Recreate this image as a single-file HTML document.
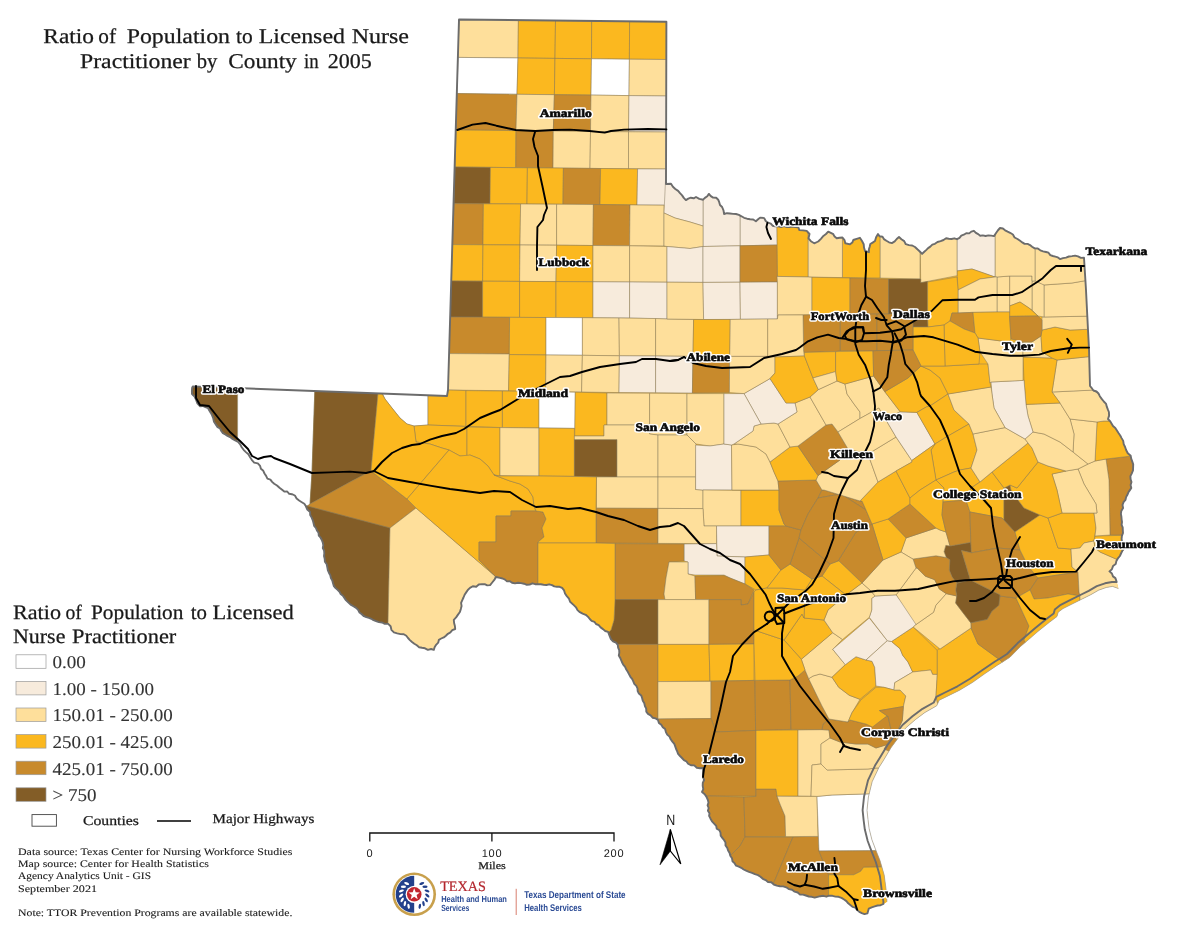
<!DOCTYPE html>
<html><head><meta charset="utf-8"><title>Ratio of Population to Licensed Nurse Practitioner by County in 2005</title>
<style>
html,body{margin:0;padding:0;background:#fff;}
body{width:1200px;height:927px;overflow:hidden;position:relative;font-family:"Liberation Serif",serif;}
svg{position:absolute;left:0;top:0;will-change:transform;}
svg text{text-rendering:geometricPrecision;}
.cty polygon{stroke:#85795f;stroke-width:0.5;stroke-linejoin:round;}
.hw polyline{fill:none;stroke:#000;stroke-width:1.9;stroke-linejoin:round;stroke-linecap:round;}
.lab text{font-family:"Liberation Serif",serif;font-weight:bold;font-size:11.5px;stroke-linejoin:round;}
.lab .h{fill:#fff;stroke:#fff;stroke-width:3.4px;}
.lab .f{fill:#0a0a0a;stroke:#0a0a0a;stroke-width:0.6px;}
.t{font-family:"Liberation Serif",serif;fill:#1a1a1a;stroke:#1a1a1a;stroke-width:0.25px;}
.s{font-family:"Liberation Sans",sans-serif;fill:#1a1a1a;}
</style></head><body>
<svg width="1200" height="927" viewBox="0 0 1200 927">
<defs><clipPath id="tx"><polygon points="459.0,19.5 666.4,21.7 666.0,184.0 671.0,183.8 672.9,186.8 675.3,189.0 678.1,190.9 680.0,193.2 682.1,195.4 683.8,197.9 685.9,200.1 688.3,198.6 690.8,197.7 693.7,198.3 696.0,197.0 699.3,198.9 703.1,199.7 704.9,197.9 707.3,196.3 708.9,193.9 710.8,196.1 713.1,197.6 716.2,197.8 718.2,199.7 719.3,202.4 720.0,205.0 722.1,207.0 723.5,210.4 724.1,214.0 727.0,213.2 730.0,213.5 733.0,213.9 736.0,214.0 738.9,214.9 741.5,216.3 744.1,217.8 747.0,218.7 750.1,219.2 753.2,219.5 755.9,221.2 758.1,219.3 760.1,217.6 764.2,218.1 765.7,221.0 768.1,222.7 770.8,223.6 772.6,225.7 775.3,226.3 778.2,226.4 781.1,227.0 784.0,226.2 786.8,227.1 789.7,227.0 792.6,226.5 795.4,227.1 798.3,227.4 799.4,230.1 803.1,230.4 806.7,230.9 809.5,234.0 808.5,238.3 810.9,241.2 814.2,243.3 818.2,241.5 820.9,238.8 823.4,235.9 826.0,234.0 828.2,231.6 830.8,232.9 833.3,234.2 834.6,236.6 836.7,238.3 839.6,237.7 842.5,237.5 844.5,240.1 845.3,243.2 850.0,244.3 852.3,242.6 853.3,240.0 856.6,238.8 859.9,237.8 862.0,241.0 863.7,244.2 864.0,247.6 865.0,251.0 868.9,252.2 868.9,249.3 869.7,246.7 870.3,244.0 872.6,242.6 875.0,241.0 876.1,237.3 878.0,234.0 879.5,236.3 882.5,236.7 883.9,239.1 886.4,240.8 889.0,242.3 891.9,243.1 894.7,241.4 896.7,239.0 899.0,237.0 901.4,239.2 904.2,241.1 905.8,244.2 909.0,245.1 912.2,245.5 915.0,247.0 917.4,249.3 919.8,251.5 922.1,253.9 924.0,252.0 926.1,250.1 928.1,248.1 930.3,246.6 932.3,244.6 934.9,243.8 937.5,242.0 940.6,241.1 943.5,240.0 946.1,238.2 948.7,238.8 951.5,239.0 954.3,238.3 957.0,239.2 959.5,237.9 961.3,235.7 963.8,234.7 966.2,233.2 969.2,233.4 971.3,231.6 973.9,230.8 975.9,232.8 978.2,234.1 980.2,235.8 982.8,235.4 985.6,236.0 988.4,235.4 991.2,235.6 994.0,236.1 995.9,233.3 997.8,230.5 1000.0,228.0 1002.9,228.5 1005.1,230.3 1007.6,231.6 1010.1,232.8 1012.9,234.5 1014.6,237.5 1017.5,239.0 1020.1,240.8 1022.3,242.4 1024.6,243.9 1027.6,243.9 1030.0,245.1 1032.1,246.8 1034.7,248.4 1037.8,248.5 1040.3,250.3 1043.1,251.3 1046.0,252.0 1048.5,252.7 1050.3,255.1 1052.8,256.0 1055.3,256.7 1057.9,257.4 1060.0,259.1 1063.0,258.1 1066.0,257.6 1068.9,256.5 1072.0,256.1 1075.1,255.6 1078.0,256.4 1080.9,257.9 1084.0,257.8 1086.0,290.0 1088.0,330.0 1089.0,349.0 1090.0,386.0 1091.8,388.2 1093.5,390.5 1096.5,391.5 1098.5,393.5 1099.8,396.2 1101.7,398.9 1103.8,401.5 1106.1,403.9 1106.8,406.7 1107.8,409.4 1108.9,412.0 1109.1,415.6 1108.0,419.0 1110.0,421.1 1111.5,423.6 1113.0,426.1 1115.3,428.0 1116.9,430.5 1118.5,433.0 1120.2,435.5 1121.6,438.1 1123.2,440.9 1123.7,444.1 1125.1,447.0 1126.1,450.0 1127.8,453.3 1130.7,455.8 1131.2,458.7 1132.3,461.6 1133.2,464.4 1133.1,467.5 1133.0,470.5 1131.8,473.3 1130.4,476.1 1130.6,479.2 1131.5,482.1 1130.6,485.1 1131.3,488.0 1129.9,490.1 1128.4,492.3 1127.4,494.8 1126.1,497.1 1125.5,499.8 1123.7,501.8 1122.5,504.8 1123.1,508.1 1121.3,510.9 1120.9,514.0 1121.4,516.7 1121.6,519.3 1122.0,522.0 1121.6,524.8 1122.7,527.3 1122.8,530.0 1123.0,533.0 1121.9,535.9 1121.6,538.9 1122.0,542.0 1122.9,545.5 1123.7,549.1 1122.2,551.0 1121.0,553.5 1119.9,556.0 1118.1,558.1 1116.4,560.9 1115.7,564.1 1113.0,566.1 1111.9,569.3 1109.5,571.4 1111.9,573.5 1113.0,576.4 1115.4,578.1 1116.7,582.0 1118.4,588.5 1112.5,586.4 1106.2,587.5 1098.6,590.2 1090.8,594.7 1081.3,599.4 1072.0,604.1 1063.0,608.6 1058.2,612.2 1057.0,616.5 1049.4,622.3 1037.8,631.6 1028.6,639.6 1020.5,646.5 1009.9,657.3 1002.3,662.2 997.4,665.2 985.0,673.6 972.4,682.5 959.6,690.2 947.0,696.4 939.2,700.2 936.7,705.8 924.9,712.5 915.3,719.7 905.7,728.0 898.5,737.6 891.2,747.4 883.8,759.8 878.9,767.6 872.2,781.6 868.4,797.0 867.0,810.3 868.0,819.5 869.1,828.5 871.9,839.7 875.3,848.7 880.0,860.6 884.2,875.1 886.1,889.4 887.0,901.7 883.4,904.0 880.6,905.2 877.6,905.5 874.7,906.4 871.7,907.3 868.8,908.6 867.4,913.4 864.5,914.1 861.8,913.1 859.3,911.9 857.1,909.9 855.3,907.6 852.5,906.8 850.3,905.0 848.2,903.3 846.4,901.1 844.1,899.5 841.5,897.9 838.6,896.8 835.4,896.6 832.4,895.8 829.2,895.7 826.3,896.7 823.3,895.8 820.4,896.2 817.6,896.9 814.7,897.6 811.7,896.8 808.8,896.5 805.9,895.5 803.0,894.6 800.0,894.6 797.7,892.5 794.6,891.7 792.1,889.8 789.0,889.1 786.2,887.3 783.2,886.4 779.9,886.3 776.8,885.6 773.8,884.5 771.3,882.2 768.0,882.0 765.6,880.1 762.8,878.8 760.5,876.7 758.0,875.1 754.9,874.2 752.0,872.9 749.0,871.9 746.1,870.7 743.6,869.5 741.3,867.8 738.8,866.7 736.1,865.7 734.7,863.4 732.5,861.3 732.0,858.2 730.3,855.8 729.6,853.1 728.1,850.6 727.3,847.9 725.5,845.5 725.5,842.5 724.0,840.0 722.3,837.8 720.7,835.7 720.5,832.7 719.4,830.3 716.7,828.7 716.2,825.9 714.1,823.6 712.0,821.3 710.5,818.7 709.1,815.9 709.5,813.3 707.9,810.7 708.7,808.0 707.6,805.4 708.5,802.6 707.9,800.0 706.5,796.9 704.7,794.2 702.0,792.0 703.3,789.1 702.7,785.9 702.8,782.9 704.1,780.0 703.0,777.1 703.0,774.0 703.1,771.0 703.1,768.0 700.0,768.2 696.8,767.7 694.2,765.4 690.9,765.3 688.1,763.7 686.5,761.5 683.9,760.1 682.0,758.0 680.0,756.0 678.1,753.9 677.2,751.4 676.1,749.0 675.2,746.4 674.3,743.9 672.4,741.6 670.7,739.3 669.5,736.6 667.2,734.6 665.9,732.1 665.1,729.1 662.8,727.2 661.3,724.8 658.9,722.9 658.0,720.0 655.6,718.4 652.6,717.7 650.6,715.3 648.0,713.9 646.3,711.6 646.2,708.6 644.9,706.0 644.3,703.2 642.8,700.8 642.1,698.0 641.2,695.4 638.9,693.6 637.7,691.1 637.5,688.3 636.3,685.9 634.3,683.9 633.3,681.4 632.1,678.9 630.4,676.8 629.1,674.4 627.9,672.1 626.3,669.6 625.1,666.9 623.2,664.7 621.9,662.0 620.2,657.9 618.8,655.5 619.3,652.8 619.2,650.1 618.1,647.6 617.8,645.0 616.0,642.6 613.0,641.3 610.9,639.2 609.4,635.5 608.1,631.9 605.2,631.0 603.0,629.1 600.6,627.4 598.7,625.1 596.0,624.0 594.4,621.8 591.6,620.9 589.8,619.0 588.1,616.9 585.7,614.8 582.6,613.7 579.9,612.2 577.5,610.1 576.0,607.3 573.8,605.1 570.1,601.8 569.0,598.7 566.8,596.1 565.0,593.5 564.1,590.4 562.1,587.9 559.6,586.8 556.9,586.8 554.3,586.4 552.0,585.1 549.2,584.3 546.4,585.0 543.6,584.7 540.8,584.3 538.0,584.1 535.2,584.2 532.4,583.3 529.6,584.6 526.8,584.8 524.0,583.7 521.1,583.1 518.1,582.7 515.0,583.4 512.0,582.7 509.9,581.3 507.0,581.4 505.0,579.6 502.6,578.5 500.0,577.9 496.0,577.0 494.3,579.9 492.2,582.5 490.1,585.1 487.2,585.4 484.7,584.2 482.0,584.1 478.8,584.5 476.2,586.7 472.8,586.3 470.0,587.9 467.8,590.0 466.2,592.4 464.6,594.8 463.5,597.5 462.3,600.2 461.1,602.9 461.6,606.1 460.8,609.1 459.9,612.0 458.0,614.6 456.1,617.4 453.8,619.8 454.1,623.0 454.9,626.0 455.2,629.0 452.3,630.2 450.4,632.4 447.9,633.8 445.9,635.7 443.8,637.4 441.2,638.5 438.9,639.8 438.2,642.7 436.1,644.8 434.6,647.2 433.8,649.9 431.1,649.0 427.9,649.8 425.0,648.3 422.0,647.8 419.1,647.2 416.8,645.3 414.3,643.8 412.0,642.0 409.9,640.1 408.0,638.0 406.3,635.7 403.8,634.2 400.5,634.1 397.2,633.3 393.9,632.3 391.4,629.8 390.6,626.2 388.2,623.9 384.8,623.9 382.0,622.5 378.9,622.1 376.0,621.1 373.5,620.2 371.3,618.8 368.9,617.9 366.3,617.2 363.9,616.2 361.8,614.2 359.5,612.5 358.1,609.9 356.1,607.9 353.4,606.2 350.6,604.6 348.2,602.4 345.9,600.1 344.4,597.9 342.9,595.7 340.7,594.1 339.5,591.7 337.6,589.9 335.6,588.1 333.9,586.1 333.0,583.3 332.3,580.5 330.9,578.0 330.3,575.2 328.9,572.7 327.8,570.1 327.3,567.2 326.7,564.3 324.9,561.8 324.7,558.8 324.0,556.0 324.3,553.3 324.1,550.6 322.8,548.0 323.3,545.2 322.8,542.6 321.8,540.0 320.6,537.7 318.8,535.7 318.5,532.7 316.9,530.5 315.9,528.0 314.2,525.9 313.5,523.1 312.8,520.3 311.7,517.6 310.2,515.0 310.1,512.0 307.3,509.5 305.8,506.1 304.3,503.7 301.8,502.2 299.1,500.5 296.6,498.5 294.9,495.5 291.9,494.2 289.2,493.8 287.2,491.5 284.3,491.6 282.1,489.8 279.5,487.8 277.0,485.5 274.2,483.8 272.1,481.9 270.4,479.6 267.4,478.6 266.1,475.9 264.5,473.5 263.3,470.8 260.9,468.8 260.1,465.9 257.8,463.4 254.2,462.6 251.9,460.1 250.1,457.3 248.4,454.3 245.9,452.1 243.6,449.8 241.7,447.3 240.2,444.4 238.1,441.9 235.2,440.5 232.5,438.9 230.0,437.1 227.5,435.9 225.3,434.5 222.9,433.2 221.3,431.0 220.1,428.5 217.6,427.1 216.1,424.9 214.0,421.7 213.1,417.9 212.1,415.3 210.8,412.9 209.3,410.5 208.0,408.0 205.4,407.1 202.8,406.0 199.9,406.2 197.4,403.4 196.1,399.9 194.6,396.6 192.0,394.0 191.9,391.0 192.1,388.0 192.8,386.4 447.0,396.0 448.0,390.0"/></clipPath></defs>
<rect width="1200" height="927" fill="#fff"/>
<polygon points="459.0,19.5 666.4,21.7 666.0,184.0 671.0,183.8 672.9,186.8 675.3,189.0 678.1,190.9 680.0,193.2 682.1,195.4 683.8,197.9 685.9,200.1 688.3,198.6 690.8,197.7 693.7,198.3 696.0,197.0 699.3,198.9 703.1,199.7 704.9,197.9 707.3,196.3 708.9,193.9 710.8,196.1 713.1,197.6 716.2,197.8 718.2,199.7 719.3,202.4 720.0,205.0 722.1,207.0 723.5,210.4 724.1,214.0 727.0,213.2 730.0,213.5 733.0,213.9 736.0,214.0 738.9,214.9 741.5,216.3 744.1,217.8 747.0,218.7 750.1,219.2 753.2,219.5 755.9,221.2 758.1,219.3 760.1,217.6 764.2,218.1 765.7,221.0 768.1,222.7 770.8,223.6 772.6,225.7 775.3,226.3 778.2,226.4 781.1,227.0 784.0,226.2 786.8,227.1 789.7,227.0 792.6,226.5 795.4,227.1 798.3,227.4 799.4,230.1 803.1,230.4 806.7,230.9 809.5,234.0 808.5,238.3 810.9,241.2 814.2,243.3 818.2,241.5 820.9,238.8 823.4,235.9 826.0,234.0 828.2,231.6 830.8,232.9 833.3,234.2 834.6,236.6 836.7,238.3 839.6,237.7 842.5,237.5 844.5,240.1 845.3,243.2 850.0,244.3 852.3,242.6 853.3,240.0 856.6,238.8 859.9,237.8 862.0,241.0 863.7,244.2 864.0,247.6 865.0,251.0 868.9,252.2 868.9,249.3 869.7,246.7 870.3,244.0 872.6,242.6 875.0,241.0 876.1,237.3 878.0,234.0 879.5,236.3 882.5,236.7 883.9,239.1 886.4,240.8 889.0,242.3 891.9,243.1 894.7,241.4 896.7,239.0 899.0,237.0 901.4,239.2 904.2,241.1 905.8,244.2 909.0,245.1 912.2,245.5 915.0,247.0 917.4,249.3 919.8,251.5 922.1,253.9 924.0,252.0 926.1,250.1 928.1,248.1 930.3,246.6 932.3,244.6 934.9,243.8 937.5,242.0 940.6,241.1 943.5,240.0 946.1,238.2 948.7,238.8 951.5,239.0 954.3,238.3 957.0,239.2 959.5,237.9 961.3,235.7 963.8,234.7 966.2,233.2 969.2,233.4 971.3,231.6 973.9,230.8 975.9,232.8 978.2,234.1 980.2,235.8 982.8,235.4 985.6,236.0 988.4,235.4 991.2,235.6 994.0,236.1 995.9,233.3 997.8,230.5 1000.0,228.0 1002.9,228.5 1005.1,230.3 1007.6,231.6 1010.1,232.8 1012.9,234.5 1014.6,237.5 1017.5,239.0 1020.1,240.8 1022.3,242.4 1024.6,243.9 1027.6,243.9 1030.0,245.1 1032.1,246.8 1034.7,248.4 1037.8,248.5 1040.3,250.3 1043.1,251.3 1046.0,252.0 1048.5,252.7 1050.3,255.1 1052.8,256.0 1055.3,256.7 1057.9,257.4 1060.0,259.1 1063.0,258.1 1066.0,257.6 1068.9,256.5 1072.0,256.1 1075.1,255.6 1078.0,256.4 1080.9,257.9 1084.0,257.8 1086.0,290.0 1088.0,330.0 1089.0,349.0 1090.0,386.0 1091.8,388.2 1093.5,390.5 1096.5,391.5 1098.5,393.5 1099.8,396.2 1101.7,398.9 1103.8,401.5 1106.1,403.9 1106.8,406.7 1107.8,409.4 1108.9,412.0 1109.1,415.6 1108.0,419.0 1110.0,421.1 1111.5,423.6 1113.0,426.1 1115.3,428.0 1116.9,430.5 1118.5,433.0 1120.2,435.5 1121.6,438.1 1123.2,440.9 1123.7,444.1 1125.1,447.0 1126.1,450.0 1127.8,453.3 1130.7,455.8 1131.2,458.7 1132.3,461.6 1133.2,464.4 1133.1,467.5 1133.0,470.5 1131.8,473.3 1130.4,476.1 1130.6,479.2 1131.5,482.1 1130.6,485.1 1131.3,488.0 1129.9,490.1 1128.4,492.3 1127.4,494.8 1126.1,497.1 1125.5,499.8 1123.7,501.8 1122.5,504.8 1123.1,508.1 1121.3,510.9 1120.9,514.0 1121.4,516.7 1121.6,519.3 1122.0,522.0 1121.6,524.8 1122.7,527.3 1122.8,530.0 1123.0,533.0 1121.9,535.9 1121.6,538.9 1122.0,542.0 1122.9,545.5 1123.7,549.1 1122.2,551.0 1121.0,553.5 1119.9,556.0 1118.1,558.1 1116.4,560.9 1115.7,564.1 1113.0,566.1 1111.9,569.3 1109.5,571.4 1111.9,573.5 1113.0,576.4 1115.4,578.1 1116.7,582.0 1118.4,588.5 1112.5,586.4 1106.2,587.5 1098.6,590.2 1090.8,594.7 1081.3,599.4 1072.0,604.1 1063.0,608.6 1058.2,612.2 1057.0,616.5 1049.4,622.3 1037.8,631.6 1028.6,639.6 1020.5,646.5 1009.9,657.3 1002.3,662.2 997.4,665.2 985.0,673.6 972.4,682.5 959.6,690.2 947.0,696.4 939.2,700.2 936.7,705.8 924.9,712.5 915.3,719.7 905.7,728.0 898.5,737.6 891.2,747.4 883.8,759.8 878.9,767.6 872.2,781.6 868.4,797.0 867.0,810.3 868.0,819.5 869.1,828.5 871.9,839.7 875.3,848.7 880.0,860.6 884.2,875.1 886.1,889.4 887.0,901.7 883.4,904.0 880.6,905.2 877.6,905.5 874.7,906.4 871.7,907.3 868.8,908.6 867.4,913.4 864.5,914.1 861.8,913.1 859.3,911.9 857.1,909.9 855.3,907.6 852.5,906.8 850.3,905.0 848.2,903.3 846.4,901.1 844.1,899.5 841.5,897.9 838.6,896.8 835.4,896.6 832.4,895.8 829.2,895.7 826.3,896.7 823.3,895.8 820.4,896.2 817.6,896.9 814.7,897.6 811.7,896.8 808.8,896.5 805.9,895.5 803.0,894.6 800.0,894.6 797.7,892.5 794.6,891.7 792.1,889.8 789.0,889.1 786.2,887.3 783.2,886.4 779.9,886.3 776.8,885.6 773.8,884.5 771.3,882.2 768.0,882.0 765.6,880.1 762.8,878.8 760.5,876.7 758.0,875.1 754.9,874.2 752.0,872.9 749.0,871.9 746.1,870.7 743.6,869.5 741.3,867.8 738.8,866.7 736.1,865.7 734.7,863.4 732.5,861.3 732.0,858.2 730.3,855.8 729.6,853.1 728.1,850.6 727.3,847.9 725.5,845.5 725.5,842.5 724.0,840.0 722.3,837.8 720.7,835.7 720.5,832.7 719.4,830.3 716.7,828.7 716.2,825.9 714.1,823.6 712.0,821.3 710.5,818.7 709.1,815.9 709.5,813.3 707.9,810.7 708.7,808.0 707.6,805.4 708.5,802.6 707.9,800.0 706.5,796.9 704.7,794.2 702.0,792.0 703.3,789.1 702.7,785.9 702.8,782.9 704.1,780.0 703.0,777.1 703.0,774.0 703.1,771.0 703.1,768.0 700.0,768.2 696.8,767.7 694.2,765.4 690.9,765.3 688.1,763.7 686.5,761.5 683.9,760.1 682.0,758.0 680.0,756.0 678.1,753.9 677.2,751.4 676.1,749.0 675.2,746.4 674.3,743.9 672.4,741.6 670.7,739.3 669.5,736.6 667.2,734.6 665.9,732.1 665.1,729.1 662.8,727.2 661.3,724.8 658.9,722.9 658.0,720.0 655.6,718.4 652.6,717.7 650.6,715.3 648.0,713.9 646.3,711.6 646.2,708.6 644.9,706.0 644.3,703.2 642.8,700.8 642.1,698.0 641.2,695.4 638.9,693.6 637.7,691.1 637.5,688.3 636.3,685.9 634.3,683.9 633.3,681.4 632.1,678.9 630.4,676.8 629.1,674.4 627.9,672.1 626.3,669.6 625.1,666.9 623.2,664.7 621.9,662.0 620.2,657.9 618.8,655.5 619.3,652.8 619.2,650.1 618.1,647.6 617.8,645.0 616.0,642.6 613.0,641.3 610.9,639.2 609.4,635.5 608.1,631.9 605.2,631.0 603.0,629.1 600.6,627.4 598.7,625.1 596.0,624.0 594.4,621.8 591.6,620.9 589.8,619.0 588.1,616.9 585.7,614.8 582.6,613.7 579.9,612.2 577.5,610.1 576.0,607.3 573.8,605.1 570.1,601.8 569.0,598.7 566.8,596.1 565.0,593.5 564.1,590.4 562.1,587.9 559.6,586.8 556.9,586.8 554.3,586.4 552.0,585.1 549.2,584.3 546.4,585.0 543.6,584.7 540.8,584.3 538.0,584.1 535.2,584.2 532.4,583.3 529.6,584.6 526.8,584.8 524.0,583.7 521.1,583.1 518.1,582.7 515.0,583.4 512.0,582.7 509.9,581.3 507.0,581.4 505.0,579.6 502.6,578.5 500.0,577.9 496.0,577.0 494.3,579.9 492.2,582.5 490.1,585.1 487.2,585.4 484.7,584.2 482.0,584.1 478.8,584.5 476.2,586.7 472.8,586.3 470.0,587.9 467.8,590.0 466.2,592.4 464.6,594.8 463.5,597.5 462.3,600.2 461.1,602.9 461.6,606.1 460.8,609.1 459.9,612.0 458.0,614.6 456.1,617.4 453.8,619.8 454.1,623.0 454.9,626.0 455.2,629.0 452.3,630.2 450.4,632.4 447.9,633.8 445.9,635.7 443.8,637.4 441.2,638.5 438.9,639.8 438.2,642.7 436.1,644.8 434.6,647.2 433.8,649.9 431.1,649.0 427.9,649.8 425.0,648.3 422.0,647.8 419.1,647.2 416.8,645.3 414.3,643.8 412.0,642.0 409.9,640.1 408.0,638.0 406.3,635.7 403.8,634.2 400.5,634.1 397.2,633.3 393.9,632.3 391.4,629.8 390.6,626.2 388.2,623.9 384.8,623.9 382.0,622.5 378.9,622.1 376.0,621.1 373.5,620.2 371.3,618.8 368.9,617.9 366.3,617.2 363.9,616.2 361.8,614.2 359.5,612.5 358.1,609.9 356.1,607.9 353.4,606.2 350.6,604.6 348.2,602.4 345.9,600.1 344.4,597.9 342.9,595.7 340.7,594.1 339.5,591.7 337.6,589.9 335.6,588.1 333.9,586.1 333.0,583.3 332.3,580.5 330.9,578.0 330.3,575.2 328.9,572.7 327.8,570.1 327.3,567.2 326.7,564.3 324.9,561.8 324.7,558.8 324.0,556.0 324.3,553.3 324.1,550.6 322.8,548.0 323.3,545.2 322.8,542.6 321.8,540.0 320.6,537.7 318.8,535.7 318.5,532.7 316.9,530.5 315.9,528.0 314.2,525.9 313.5,523.1 312.8,520.3 311.7,517.6 310.2,515.0 310.1,512.0 307.3,509.5 305.8,506.1 304.3,503.7 301.8,502.2 299.1,500.5 296.6,498.5 294.9,495.5 291.9,494.2 289.2,493.8 287.2,491.5 284.3,491.6 282.1,489.8 279.5,487.8 277.0,485.5 274.2,483.8 272.1,481.9 270.4,479.6 267.4,478.6 266.1,475.9 264.5,473.5 263.3,470.8 260.9,468.8 260.1,465.9 257.8,463.4 254.2,462.6 251.9,460.1 250.1,457.3 248.4,454.3 245.9,452.1 243.6,449.8 241.7,447.3 240.2,444.4 238.1,441.9 235.2,440.5 232.5,438.9 230.0,437.1 227.5,435.9 225.3,434.5 222.9,433.2 221.3,431.0 220.1,428.5 217.6,427.1 216.1,424.9 214.0,421.7 213.1,417.9 212.1,415.3 210.8,412.9 209.3,410.5 208.0,408.0 205.4,407.1 202.8,406.0 199.9,406.2 197.4,403.4 196.1,399.9 194.6,396.6 192.0,394.0 191.9,391.0 192.1,388.0 192.8,386.4 447.0,396.0 448.0,390.0" fill="#fbb81f"/>
<g class="cty" clip-path="url(#tx)">
<polygon points="459.0,19.5 518.4,20.1 518.0,58.0 458.0,57.4" fill="#fedf9b"/>
<polygon points="518.4,20.1 555.5,20.5 555.0,58.4 518.0,58.0" fill="#fbb81f"/>
<polygon points="555.5,20.5 591.7,20.9 591.5,58.8 555.0,58.4" fill="#fbb81f"/>
<polygon points="591.7,20.9 629.6,21.3 629.4,59.2 591.5,58.8" fill="#fbb81f"/>
<polygon points="629.6,21.3 667.0,21.7 667.0,59.5 629.4,59.2" fill="#fbb81f"/>
<polygon points="458.0,57.4 518.0,58.0 517.0,94.3 457.0,93.6" fill="#ffffff"/>
<polygon points="518.0,58.0 555.0,58.4 554.4,94.7 517.0,94.3" fill="#fbb81f"/>
<polygon points="555.0,58.4 591.5,58.8 591.0,95.1 554.4,94.7" fill="#fbb81f"/>
<polygon points="591.5,58.8 629.4,59.2 629.0,95.6 591.0,95.1" fill="#ffffff"/>
<polygon points="629.4,59.2 667.0,59.5 667.0,96.0 629.0,95.6" fill="#fedf9b"/>
<polygon points="457.0,93.6 517.0,94.3 516.0,130.6 456.0,130.0" fill="#c88a2c"/>
<polygon points="517.0,94.3 554.4,94.7 553.3,131.0 516.0,130.6" fill="#fedf9b"/>
<polygon points="554.4,94.7 591.0,95.1 590.5,131.4 553.3,131.0" fill="#c88a2c"/>
<polygon points="591.0,95.1 629.0,95.6 628.5,131.8 590.5,131.4" fill="#fedf9b"/>
<polygon points="629.0,95.6 667.0,96.0 667.0,132.0 628.5,131.8" fill="#f7ebdc"/>
<polygon points="456.0,130.0 516.0,130.6 515.8,167.6 455.0,167.0" fill="#fbb81f"/>
<polygon points="516.0,130.6 553.3,131.0 553.0,168.0 515.8,167.6" fill="#c88a2c"/>
<polygon points="553.3,131.0 590.5,131.4 590.0,168.4 553.0,168.0" fill="#fedf9b"/>
<polygon points="590.5,131.4 628.5,131.8 628.5,168.8 590.0,168.4" fill="#fedf9b"/>
<polygon points="628.5,131.8 667.0,132.0 667.0,169.0 628.5,168.8" fill="#fedf9b"/>
<polygon points="455.0,167.0 490.4,167.4 490.0,203.8 454.0,203.6" fill="#835d27"/>
<polygon points="490.4,167.4 527.4,167.8 527.0,204.0 490.0,203.8" fill="#fbb81f"/>
<polygon points="527.4,167.8 563.4,168.1 563.0,204.3 527.0,204.0" fill="#fbb81f"/>
<polygon points="563.4,168.1 600.6,168.5 600.0,204.6 563.0,204.3" fill="#c88a2c"/>
<polygon points="600.6,168.5 637.6,168.9 637.0,205.0 600.0,204.6" fill="#fbb81f"/>
<polygon points="637.6,168.9 667.0,169.0 667.0,205.2 637.0,205.0" fill="#f7ebdc"/>
<polygon points="454.0,203.6 483.4,203.8 483.0,244.8 452.4,244.6" fill="#c88a2c"/>
<polygon points="483.4,203.8 520.6,204.0 520.0,245.0 483.0,244.8" fill="#fbb81f"/>
<polygon points="520.6,204.0 556.6,204.2 556.6,245.2 520.0,245.0" fill="#fedf9b"/>
<polygon points="556.6,204.2 593.4,204.5 593.0,245.5 556.6,245.2" fill="#fedf9b"/>
<polygon points="593.4,204.5 630.0,204.9 629.6,245.8 593.0,245.5" fill="#c88a2c"/>
<polygon points="630.0,204.9 664.0,205.2 664.0,246.0 629.6,245.8" fill="#fedf9b"/>
<polygon points="452.4,244.6 483.0,244.8 482.6,281.2 451.0,281.0" fill="#fbb81f"/>
<polygon points="483.0,244.8 520.0,245.0 519.6,281.4 482.6,281.2" fill="#fbb81f"/>
<polygon points="520.0,245.0 556.6,245.2 556.0,281.6 519.6,281.4" fill="#fedf9b"/>
<polygon points="556.6,245.2 593.0,245.5 593.0,281.8 556.0,281.6" fill="#fbb81f"/>
<polygon points="593.0,245.5 629.6,245.8 629.6,282.0 593.0,281.8" fill="#fedf9b"/>
<polygon points="629.6,245.8 667.0,246.5 667.0,282.2 629.6,282.0" fill="#fedf9b"/>
<polygon points="451.0,281.0 482.6,281.2 482.6,317.2 449.5,317.0" fill="#835d27"/>
<polygon points="482.6,281.2 519.6,281.4 519.6,317.4 482.6,317.2" fill="#fbb81f"/>
<polygon points="519.6,281.4 556.0,281.6 556.0,317.6 519.6,317.4" fill="#fbb81f"/>
<polygon points="556.0,281.6 593.0,281.8 593.0,317.8 556.0,317.6" fill="#fbb81f"/>
<polygon points="593.0,281.8 629.6,282.0 629.6,318.0 593.0,317.8" fill="#f7ebdc"/>
<polygon points="629.6,282.0 667.0,282.2 667.0,319.0 629.6,318.0" fill="#f7ebdc"/>
<polygon points="449.5,317.0 509.6,317.3 509.3,354.0 449.0,353.6" fill="#c88a2c"/>
<polygon points="509.6,317.3 546.0,317.5 546.0,355.0 509.3,354.6" fill="#fbb81f"/>
<polygon points="546.0,317.5 582.4,317.7 582.4,355.3 546.0,355.0" fill="#ffffff"/>
<polygon points="582.4,317.7 619.0,318.0 619.4,355.8 582.4,355.3" fill="#fedf9b"/>
<polygon points="619.0,318.0 655.6,318.5 655.6,356.0 619.4,355.8" fill="#fedf9b"/>
<polygon points="655.6,318.5 667.0,319.0 693.6,319.5 693.0,356.4 655.6,356.0" fill="#fedf9b"/>
<polygon points="449.0,353.6 509.3,354.0 508.6,390.8 448.0,390.0" fill="#fedf9b"/>
<polygon points="509.3,354.6 546.0,355.0 545.6,391.6 508.6,391.0" fill="#fbb81f"/>
<polygon points="546.0,355.0 582.4,355.3 581.6,392.0 545.6,391.6" fill="#fedf9b"/>
<polygon points="582.4,355.3 619.4,355.8 619.0,392.6 581.6,392.0" fill="#fedf9b"/>
<polygon points="619.4,355.8 655.6,356.0 655.6,392.8 619.0,392.6" fill="#f7ebdc"/>
<polygon points="655.6,356.0 693.0,356.4 692.4,393.0 655.6,392.8" fill="#f7ebdc"/>
<polygon points="380.0,388.0 428.0,388.0 428.0,425.0 414.0,426.0 407.0,424.0 400.0,418.0 392.0,408.0 385.0,399.0" fill="#ffffff"/>
<polygon points="428.0,390.0 447.0,396.0 448.0,390.0 466.0,390.6 466.0,426.4 428.0,425.0" fill="#fbb81f"/>
<polygon points="466.0,390.6 502.4,391.0 502.4,427.6 466.0,426.4" fill="#fbb81f"/>
<polygon points="502.4,391.0 539.0,391.6 539.0,428.0 502.4,427.6" fill="#fbb81f"/>
<polygon points="539.0,391.6 575.3,392.2 575.0,428.4 539.0,428.0" fill="#ffffff"/>
<polygon points="575.3,392.2 607.0,393.0 607.0,425.0 604.0,425.0 604.0,436.0 574.7,436.0" fill="#fbb81f"/>
<polygon points="607.0,393.0 649.6,393.2 649.6,425.0 607.0,425.0" fill="#fedf9b"/>
<polygon points="649.6,393.2 687.0,393.6 687.0,435.0 658.0,435.0 649.6,434.0" fill="#fedf9b"/>
<polygon points="687.0,393.6 724.0,393.6 724.0,444.0 710.0,446.0 696.0,444.0 687.0,435.0" fill="#fedf9b"/>
<polygon points="414.0,426.0 428.0,425.0 466.0,426.4 467.0,427.0 467.0,456.0 460.0,456.0 449.0,450.0 442.0,448.0 430.0,444.0 416.0,442.0" fill="#fbb81f"/>
<polygon points="467.0,427.0 500.0,427.6 500.0,476.0 494.0,475.0 488.0,466.0 480.0,459.0 470.0,455.0 467.0,456.0" fill="#fbb81f"/>
<polygon points="500.0,427.6 539.0,428.0 539.0,476.0 500.0,475.6" fill="#fedf9b"/>
<polygon points="539.0,428.0 574.4,428.4 574.4,476.4 539.0,476.0" fill="#fbb81f"/>
<polygon points="574.4,439.6 617.0,439.6 617.0,477.0 574.4,476.4" fill="#835d27"/>
<polygon points="604.0,425.0 649.6,425.0 649.6,434.0 658.0,435.0 658.0,477.0 617.0,477.0 617.0,439.6 574.4,439.6 574.4,436.0 604.0,436.0" fill="#fedf9b"/>
<polygon points="658.0,435.0 687.0,435.0 696.0,444.0 695.6,477.0 658.0,477.0" fill="#fedf9b"/>
<polygon points="596.5,477.0 658.0,477.0 658.0,508.4 596.5,508.0" fill="#fedf9b"/>
<polygon points="596.0,508.4 658.0,508.4 658.0,543.4 596.0,543.0" fill="#c88a2c"/>
<polygon points="658.0,477.0 695.6,477.0 695.6,489.5 703.0,490.0 703.0,508.6 658.0,508.4" fill="#fedf9b"/>
<polygon points="695.6,445.0 710.0,446.0 724.0,444.0 731.5,445.0 732.0,490.0 703.0,490.0 695.6,489.5" fill="#f7ebdc"/>
<polygon points="703.0,490.0 741.0,490.4 741.0,526.0 704.0,526.0 703.0,508.6" fill="#fedf9b"/>
<polygon points="658.0,508.4 703.0,508.6 704.0,526.0 716.5,526.0 716.5,543.6 658.0,543.4" fill="#fedf9b"/>
<polygon points="741.0,490.4 779.0,490.0 779.0,510.0 784.0,524.0 786.0,526.0 741.0,526.0" fill="#fbb81f"/>
<polygon points="731.5,445.0 738.0,444.0 756.0,447.0 766.0,454.0 770.0,462.0 774.0,472.0 778.0,481.0 779.0,490.0 732.0,490.0" fill="#fedf9b"/>
<polygon points="716.5,526.0 741.0,526.0 769.0,526.0 769.0,555.0 745.0,557.0 717.0,556.0" fill="#f7ebdc"/>
<polygon points="684.0,544.0 716.5,543.6 717.0,556.0 745.0,557.0 745.0,584.0 730.0,578.0 724.0,575.0 695.0,575.0 688.0,574.0 688.0,562.0 684.0,561.0" fill="#f7ebdc"/>
<polygon points="745.0,557.0 769.0,555.0 781.0,570.0 767.0,588.0 756.0,590.0 745.0,584.0" fill="#fbb81f"/>
<polygon points="615.0,543.6 684.0,544.0 684.0,561.0 669.0,562.0 666.0,578.0 664.0,594.0 665.0,599.6 615.0,599.6" fill="#c88a2c"/>
<polygon points="669.0,562.0 688.0,562.0 688.0,574.0 695.0,576.0 695.6,599.6 665.0,599.6 664.0,594.0 666.0,578.0" fill="#fedf9b"/>
<polygon points="695.0,576.0 724.0,575.5 730.0,578.0 745.0,584.0 754.0,590.0 748.0,604.0 741.0,605.0 741.0,599.6 695.6,599.6" fill="#c88a2c"/>
<polygon points="615.0,599.6 658.0,599.6 658.0,644.4 600.0,644.4 600.0,640.0 611.0,630.0 614.0,620.0" fill="#835d27"/>
<polygon points="658.0,599.6 709.0,599.6 709.0,644.4 658.0,644.4" fill="#fedf9b"/>
<polygon points="709.0,599.6 741.0,599.6 741.0,605.0 748.0,604.0 754.0,592.0 754.0,644.0 709.0,644.4" fill="#c88a2c"/>
<polygon points="600.0,644.4 658.0,644.4 658.0,719.0 640.0,720.0 600.0,660.0" fill="#c88a2c"/>
<polygon points="658.0,644.4 709.0,644.4 710.0,681.0 658.0,681.6" fill="#fbb81f"/>
<polygon points="709.0,644.4 754.0,644.0 754.0,680.4 710.0,681.0" fill="#fbb81f"/>
<polygon points="658.0,681.6 711.0,681.4 711.0,718.6 658.0,719.0" fill="#fedf9b"/>
<polygon points="711.0,681.4 755.0,680.4 755.6,730.6 716.0,732.0 711.0,718.6" fill="#c88a2c"/>
<polygon points="755.0,680.4 790.0,680.0 791.0,729.4 755.6,730.6" fill="#c88a2c"/>
<polygon points="658.0,719.0 711.0,718.6 716.0,732.0 756.0,730.4 756.0,796.2 709.0,796.0 680.0,800.0 640.0,720.0" fill="#c88a2c"/>
<polygon points="709.0,796.0 744.0,797.0 745.0,837.0 740.0,846.0 730.0,856.0 720.0,860.0 690.0,850.0 680.0,800.0" fill="#c88a2c"/>
<polygon points="744.0,797.0 756.0,796.4 756.0,789.0 776.0,789.0 777.0,796.0 780.0,804.0 785.0,816.0 785.6,836.6 745.0,837.0" fill="#c88a2c"/>
<polygon points="745.0,837.0 793.0,837.0 775.0,880.0 770.0,890.0 720.0,880.0 720.0,860.0 730.0,856.0 740.0,846.0" fill="#c88a2c"/>
<polygon points="793.0,837.0 818.4,836.0 819.0,851.0 828.6,874.8 828.6,905.0 770.0,905.0 770.0,890.0 775.0,880.0" fill="#c88a2c"/>
<polygon points="777.0,796.0 817.0,796.4 818.0,836.4 785.6,836.6 785.0,816.0 780.0,804.0" fill="#fedf9b"/>
<polygon points="817.0,796.4 832.0,795.0 895.0,793.0 895.0,850.6 819.0,851.0 818.4,836.0" fill="#ffffff"/>
<polygon points="819.0,851.0 895.0,850.6 895.0,866.7 863.6,867.3 860.7,871.3 853.7,874.8 828.6,874.8" fill="#c88a2c"/>
<polygon points="828.6,874.8 853.7,874.8 860.7,871.3 863.6,867.3 900.0,866.7 900.0,920.0 828.6,920.0" fill="#fbb81f"/>
<polygon points="756.0,730.4 798.0,730.0 798.0,796.0 777.0,796.0 776.0,789.0 756.0,789.0" fill="#fbb81f"/>
<polygon points="798.0,730.0 822.0,729.6 829.0,730.0 830.0,738.0 821.0,744.0 821.0,764.0 812.0,765.0 811.0,796.2 798.0,796.0" fill="#fedf9b"/>
<polygon points="812.0,765.0 821.0,764.0 827.0,770.0 868.0,769.0 876.0,768.0 895.0,768.0 895.0,793.0 832.0,795.0 817.0,796.4 811.0,796.2" fill="#fedf9b"/>
<polygon points="830.0,738.0 840.0,742.0 856.0,744.0 868.0,744.0 876.0,748.0 900.0,740.0 900.0,768.0 876.0,768.0 868.0,769.0 827.0,770.0 821.0,764.0 821.0,744.0" fill="#fedf9b"/>
<polygon points="823.0,724.0 829.0,719.0 848.0,722.0 850.0,720.0 866.0,724.0 888.0,716.0 892.0,734.0 890.0,744.0 876.0,748.0 868.0,744.0 856.0,744.0 840.0,742.0 830.0,738.0 829.0,730.0 822.0,729.6" fill="#c88a2c"/>
<polygon points="790.0,680.0 798.0,676.0 805.0,670.0 808.7,678.7 822.0,706.0 829.0,719.0 823.0,724.0 822.0,729.6 791.0,729.4" fill="#c88a2c"/>
<polygon points="808.7,678.7 813.0,676.0 820.0,674.0 832.0,677.3 838.7,687.3 849.3,695.3 860.0,699.3 852.0,712.7 848.0,722.0 829.0,719.0 822.0,706.0" fill="#fedf9b"/>
<polygon points="801.3,659.3 832.7,632.7 842.5,639.5 832.7,649.3 845.3,664.7 832.0,677.3 820.0,674.0 813.0,676.0 808.7,678.7 805.0,670.0" fill="#fedf9b"/>
<polygon points="784.0,640.0 802.0,614.0 804.0,618.0 824.0,620.0 832.7,632.7 801.3,659.3" fill="#fbb81f"/>
<polygon points="754.0,630.0 784.0,640.0 801.3,659.3 805.0,670.0 798.0,676.0 790.0,680.0 755.0,680.4 754.0,644.0" fill="#fbb81f"/>
<polygon points="832.0,677.3 845.3,664.7 856.0,656.7 866.0,660.0 872.0,661.3 874.7,667.3 876.0,686.0 860.0,699.3 849.3,695.3 838.7,687.3" fill="#fbb81f"/>
<polygon points="832.7,649.3 869.3,618.0 887.3,640.7 866.0,660.0 856.0,656.7 845.3,664.7" fill="#f7ebdc"/>
<polygon points="866.0,660.0 887.3,640.7 891.5,641.5 900.0,648.7 902.7,655.3 908.0,662.0 912.7,672.0 894.7,682.7 894.0,690.0 884.0,687.3 876.0,686.0 874.7,667.3 872.0,661.3" fill="#f7ebdc"/>
<polygon points="891.5,641.5 913.3,627.0 937.3,650.5 937.3,674.4 932.6,674.4 930.7,670.0 912.7,672.0 908.0,662.0 902.7,655.3 900.0,648.7" fill="#fbb81f"/>
<polygon points="871.7,598.3 875.2,596.0 896.2,594.8 917.0,622.0 916.0,624.5 913.3,627.0 891.5,641.5 887.3,640.7 869.3,617.3 871.7,610.0" fill="#f7ebdc"/>
<polygon points="824.0,620.0 828.0,610.0 846.0,595.0 862.0,583.0 870.0,590.0 875.2,596.0 871.7,598.3 871.7,610.0 869.3,617.3 842.5,639.5 832.7,632.7" fill="#fedf9b"/>
<polygon points="860.8,700.1 876.0,687.3 884.0,687.3 894.0,690.0 900.0,690.0 905.8,696.0 903.4,706.5 879.5,710.6 887.0,715.8 872.5,727.0 866.0,724.0 850.0,720.0 848.0,722.0 852.0,712.7" fill="#fbb81f"/>
<polygon points="894.7,682.7 912.7,672.0 930.7,670.0 932.6,674.4 937.3,674.4 936.0,696.0 937.5,703.0 940.0,706.0 915.0,730.0 900.0,745.0 895.0,738.0 898.0,730.0 902.3,720.5 903.4,706.5 905.8,696.0 900.0,690.0 894.0,690.0" fill="#fedf9b"/>
<polygon points="879.5,710.6 903.4,706.5 902.3,720.5 898.0,730.0 892.0,734.0 888.0,716.0 887.0,715.8" fill="#c88a2c"/>
<polygon points="892.0,736.0 901.0,742.0 893.0,753.0 884.0,749.0" fill="#c88a2c"/>
<polygon points="971.0,628.0 978.0,644.0 1000.0,660.0 1010.0,670.0 960.0,700.0 940.0,706.0 937.5,703.0 936.0,696.0 937.3,674.4 937.3,650.5 938.7,648.7 940.0,649.0" fill="#fbb81f"/>
<polygon points="970.8,622.8 987.2,619.3 991.8,611.2 998.8,605.3 1000.0,596.0 1016.0,598.0 1029.0,626.0 1024.0,640.0 1030.0,650.0 1010.0,670.0 1000.0,660.0 978.0,644.0 971.0,628.0" fill="#c88a2c"/>
<polygon points="916.0,624.5 933.5,612.3 935.8,605.3 945.2,594.8 946.3,593.7 956.8,596.0 955.7,603.0 962.7,612.3 970.8,622.8 971.0,628.0 940.0,649.0 913.3,627.0" fill="#fedf9b"/>
<polygon points="916.0,568.0 917.2,568.0 925.3,576.2 934.7,579.7 939.3,589.0 946.3,593.7 945.2,594.8 935.8,605.3 933.5,612.3 916.0,624.5 896.2,594.8" fill="#fedf9b"/>
<polygon points="956.8,583.2 970.3,579.7 976.7,583.2 988.3,589.0 1000.0,594.8 998.8,605.3 991.8,611.2 987.2,619.3 970.8,622.8 962.7,612.3 955.7,603.0 956.8,596.0 955.7,590.2" fill="#835d27"/>
<polygon points="945.8,545.3 950.0,546.0 970.8,542.3 971.4,552.8 961.5,550.5 970.3,579.7 956.8,583.2 952.2,577.3 949.3,570.3 949.8,559.8 946.3,557.5 944.0,551.7" fill="#835d27"/>
<polygon points="913.0,559.0 936.0,555.8 946.3,557.5 949.8,559.8 949.3,570.3 952.2,577.3 956.8,583.2 955.7,590.2 956.8,596.0 946.3,593.7 939.3,589.0 934.7,579.7 925.3,576.2 917.2,568.0 916.0,568.0" fill="#c88a2c"/>
<polygon points="906.0,538.0 936.0,528.0 940.0,530.0 946.0,532.0 950.0,546.0 945.8,545.3 944.0,551.7 946.3,557.5 936.0,555.8 913.0,559.0 911.0,558.0 901.0,552.0" fill="#fedf9b"/>
<polygon points="883.0,560.0 901.0,552.0 911.0,558.0 913.0,559.0 916.0,568.0 896.2,594.8 875.2,596.0 870.0,590.0 862.0,583.0" fill="#fedf9b"/>
<polygon points="888.0,519.0 910.0,504.0 936.0,528.0 906.0,538.0" fill="#c88a2c"/>
<polygon points="872.0,524.0 888.0,519.0 906.0,538.0 901.0,552.0 883.0,560.0" fill="#fbb81f"/>
<polygon points="856.0,532.0 872.0,524.0 883.0,560.0 862.0,583.0 839.0,561.0 838.0,561.0" fill="#c88a2c"/>
<polygon points="822.0,576.0 830.0,564.0 838.0,561.0 839.0,561.0 862.0,583.0 846.0,595.0" fill="#fbb81f"/>
<polygon points="812.0,579.0 822.0,576.0 846.0,595.0 828.0,610.0 824.0,620.0 804.0,618.0 805.0,590.0" fill="#fbb81f"/>
<polygon points="756.0,590.0 767.0,588.0 782.0,588.0 805.0,590.0 804.0,618.0 802.0,614.0 784.0,640.0 754.0,630.0 754.0,592.0" fill="#fbb81f"/>
<polygon points="781.0,570.0 790.0,564.0 812.0,579.0 805.0,590.0 782.0,588.0 767.0,588.0" fill="#fbb81f"/>
<polygon points="799.0,538.0 830.0,564.0 822.0,576.0 812.0,579.0 790.0,564.0" fill="#c88a2c"/>
<polygon points="769.0,526.0 786.0,526.0 801.0,530.0 799.0,538.0 790.0,564.0 781.0,570.0 769.0,555.0" fill="#c88a2c"/>
<polygon points="778.0,481.0 816.0,480.0 822.0,490.0 820.0,494.0 818.0,498.0 808.0,514.0 801.0,530.0 786.0,526.0 784.0,524.0 779.0,510.0 779.0,490.0" fill="#c88a2c"/>
<polygon points="822.0,490.0 824.0,490.0 860.0,501.0 862.0,501.0 866.0,510.0 841.0,494.0 818.0,498.0 820.0,494.0" fill="#c88a2c"/>
<polygon points="818.0,498.0 841.0,494.0 866.0,510.0 872.0,524.0 856.0,532.0 838.0,561.0 830.0,564.0 799.0,538.0 801.0,530.0 808.0,514.0" fill="#c88a2c"/>
<polygon points="878.0,482.0 896.0,471.0 910.0,498.0 910.0,504.0 888.0,519.0 872.0,524.0 866.0,510.0 862.0,501.0 860.0,501.0" fill="#fbb81f"/>
<polygon points="840.0,460.0 848.0,449.0 868.0,454.0 878.0,482.0 860.0,501.0 824.0,490.0 822.0,490.0 816.0,480.0 818.0,475.6" fill="#fedf9b"/>
<polygon points="868.0,454.0 896.0,437.0 911.8,460.5 912.0,462.0 896.0,471.0 878.0,482.0" fill="#fedf9b"/>
<polygon points="770.0,462.0 790.0,447.0 798.0,446.0 818.0,475.6 816.0,480.0 778.0,481.0 774.0,472.0" fill="#fbb81f"/>
<polygon points="798.0,446.0 826.0,425.0 832.0,424.0 838.0,432.0 848.0,449.0 840.0,460.0 818.0,475.6" fill="#c88a2c"/>
<polygon points="754.0,426.0 761.0,424.0 774.0,423.0 778.0,424.0 790.0,447.0 770.0,462.0 766.0,454.0 756.0,447.0 738.0,444.0 734.0,444.0 753.0,431.0" fill="#fedf9b"/>
<polygon points="797.0,412.0 795.0,403.0 810.0,397.0 826.0,425.0 798.0,446.0 790.0,447.0 778.0,424.0" fill="#fedf9b"/>
<polygon points="744.0,393.6 770.0,378.6 786.0,403.0 795.0,403.0 797.0,412.0 778.0,424.0 774.0,423.0 761.0,424.0" fill="#f7ebdc"/>
<polygon points="724.0,393.6 744.0,393.6 761.0,424.0 754.0,426.0 753.0,431.0 734.0,444.0 731.5,445.0 724.0,444.0" fill="#f7ebdc"/>
<polygon points="810.0,397.0 818.4,389.6 837.0,381.0 845.0,384.0 847.0,394.0 854.0,404.0 860.0,412.0 860.0,418.5 838.0,432.0 832.0,424.0 826.0,425.0" fill="#fedf9b"/>
<polygon points="845.0,384.0 873.6,376.0 884.8,391.7 900.2,411.8 885.5,419.1 878.8,408.1 860.0,418.5 860.0,412.0 854.0,404.0 847.0,394.0" fill="#fedf9b"/>
<polygon points="860.0,418.5 878.8,408.1 885.5,419.1 896.0,437.0 868.0,454.0 848.0,449.0 838.0,432.0" fill="#fedf9b"/>
<polygon points="885.5,419.1 900.2,411.8 916.9,412.4 935.0,444.0 911.8,460.5 896.0,437.0" fill="#f7ebdc"/>
<polygon points="884.8,391.7 908.0,378.0 920.0,367.0 921.0,366.0 930.0,370.0 940.0,378.0 948.0,394.0 930.0,406.0 926.3,407.0 916.9,412.4 900.2,411.8" fill="#fbb81f"/>
<polygon points="916.9,412.4 926.3,407.0 930.0,406.0 948.0,394.0 954.0,410.0 969.0,424.0 948.0,436.0 935.0,444.0" fill="#fbb81f"/>
<polygon points="948.0,436.0 969.0,424.0 973.0,434.0 977.0,450.0 971.0,468.0 960.0,470.0 954.0,472.0 936.0,480.0 931.0,450.0 935.0,444.0" fill="#fbb81f"/>
<polygon points="896.0,471.0 912.0,462.0 911.8,460.5 935.0,444.0 931.0,450.0 936.0,480.0 920.0,490.0 910.0,498.0" fill="#fbb81f"/>
<polygon points="910.0,504.0 910.0,498.0 920.0,490.0 936.0,480.0 944.0,488.0 943.0,502.0 942.0,515.0 946.0,532.0 940.0,530.0 936.0,528.0" fill="#fbb81f"/>
<polygon points="954.0,472.0 960.0,470.0 971.0,468.0 980.0,482.0 971.0,488.0 966.0,500.0 943.0,502.0 944.0,488.0 936.0,480.0" fill="#fbb81f"/>
<polygon points="943.0,502.0 966.0,500.0 970.0,512.0 970.8,542.3 950.0,546.0 946.0,532.0 942.0,515.0" fill="#c88a2c"/>
<polygon points="980.0,482.0 992.0,472.0 1004.0,488.0 1004.0,499.0 1004.0,520.0 1002.0,518.0 970.0,512.0 966.0,500.0 971.0,488.0" fill="#fbb81f"/>
<polygon points="970.0,512.0 1002.0,518.0 1004.0,520.0 1015.0,532.0 1020.0,550.0 998.0,548.0 971.4,552.8 970.8,542.3" fill="#c88a2c"/>
<polygon points="961.5,550.5 971.4,552.8 998.0,548.0 1020.0,550.0 1028.0,566.0 1038.0,578.0 1030.0,590.0 1016.0,598.0 1000.0,596.0 1000.0,594.8 988.3,589.0 976.7,583.2 970.3,579.7" fill="#c88a2c"/>
<polygon points="1004.0,499.0 1004.0,488.0 1010.0,485.0 1011.0,490.0 1018.0,500.0 1024.0,508.0 1040.0,515.0 1015.0,532.0 1004.0,520.0" fill="#835d27"/>
<polygon points="1015.0,532.0 1040.0,515.0 1048.0,518.0 1058.0,548.0 1071.0,549.0 1072.0,567.0 1078.0,572.0 1038.0,578.0 1028.0,566.0 1020.0,550.0" fill="#fbb81f"/>
<polygon points="1038.0,578.0 1078.0,572.0 1079.0,592.0 1080.0,596.0 1068.0,594.0 1048.0,598.0 1034.0,599.0 1030.0,590.0" fill="#c88a2c"/>
<polygon points="1016.0,598.0 1030.0,590.0 1034.0,599.0 1048.0,598.0 1068.0,594.0 1080.0,596.0 1080.0,610.0 1030.0,650.0 1024.0,640.0 1029.0,626.0" fill="#fbb81f"/>
<polygon points="1048.0,518.0 1062.0,513.0 1094.0,513.0 1096.0,528.0 1094.0,541.0 1084.0,543.0 1080.0,548.0 1071.0,549.0 1058.0,548.0" fill="#fbb81f"/>
<polygon points="1071.0,549.0 1080.0,548.0 1084.0,543.0 1094.0,541.0 1095.0,548.0 1100.0,552.0 1116.0,559.0 1130.0,565.0 1130.0,600.0 1080.0,610.0 1080.0,596.0 1079.0,592.0 1078.0,572.0 1072.0,567.0" fill="#fedf9b"/>
<polygon points="1095.0,536.0 1135.0,535.0 1135.0,562.0 1116.0,559.0 1100.0,552.0 1095.0,548.0 1094.0,541.0" fill="#fbb81f"/>
<polygon points="1106.0,459.0 1140.0,455.0 1140.0,535.0 1110.0,535.0 1109.0,480.0" fill="#c88a2c"/>
<polygon points="1078.0,469.0 1088.0,464.0 1095.0,461.0 1106.0,459.0 1109.0,480.0 1110.0,535.0 1095.0,536.0 1096.0,528.0 1094.0,513.0 1097.0,513.0 1096.0,504.0 1084.0,484.0" fill="#fedf9b"/>
<polygon points="1052.0,474.0 1066.0,471.0 1078.0,469.0 1084.0,484.0 1096.0,504.0 1097.0,513.0 1094.0,513.0 1062.0,513.0 1057.0,490.0" fill="#fedf9b"/>
<polygon points="1038.0,462.0 1048.0,466.0 1066.0,471.0 1052.0,474.0 1057.0,490.0 1062.0,513.0 1048.0,518.0 1040.0,515.0 1024.0,508.0 1018.0,500.0 1011.0,490.0 1010.0,485.0 1017.0,488.0" fill="#fbb81f"/>
<polygon points="1028.0,443.0 1032.0,448.0 1038.0,462.0 1017.0,488.0 1010.0,485.0 1004.0,488.0 992.0,472.0" fill="#fbb81f"/>
<polygon points="973.0,434.0 1005.0,427.6 1025.0,439.0 1028.0,443.0 992.0,472.0 980.0,482.0 971.0,468.0 977.0,450.0" fill="#fedf9b"/>
<polygon points="1025.0,439.0 1033.0,432.0 1044.0,434.0 1060.0,442.0 1073.0,452.0 1088.0,464.0 1078.0,469.0 1066.0,471.0 1048.0,466.0 1038.0,462.0 1032.0,448.0 1028.0,443.0" fill="#fedf9b"/>
<polygon points="1097.0,422.0 1104.0,421.0 1140.0,421.0 1140.0,455.0 1106.0,459.0 1095.0,461.0" fill="#fbb81f"/>
<polygon points="1070.0,419.0 1097.0,422.0 1095.0,461.0 1088.0,464.0 1073.0,452.0 1074.0,434.0" fill="#fedf9b"/>
<polygon points="1026.0,404.4 1060.0,403.0 1070.0,419.0 1074.0,434.0 1073.0,452.0 1060.0,442.0 1044.0,434.0 1033.0,432.0 1028.0,416.0" fill="#fedf9b"/>
<polygon points="1052.0,392.0 1092.0,390.0 1120.0,405.0 1120.0,421.0 1104.0,421.0 1097.0,422.0 1070.0,419.0 1060.0,403.0" fill="#fedf9b"/>
<polygon points="1057.0,360.0 1095.0,356.0 1095.0,390.0 1052.0,392.0" fill="#fedf9b"/>
<polygon points="1023.0,357.0 1052.0,358.0 1057.0,360.0 1052.0,392.0 1060.0,403.0 1026.0,404.4 1024.0,380.0" fill="#fbb81f"/>
<polygon points="991.0,382.0 1023.0,380.4 1024.0,380.0 1026.0,404.4 1028.0,416.0 1033.0,432.0 1025.0,439.0 1005.0,427.6 994.0,408.0 992.0,394.0" fill="#f7ebdc"/>
<polygon points="948.0,394.0 991.0,387.0 992.0,394.0 994.0,408.0 1005.0,427.6 973.0,434.0 969.0,424.0 954.0,410.0" fill="#fedf9b"/>
<polygon points="921.0,366.0 945.0,366.0 979.0,364.0 988.0,364.0 990.0,383.0 991.0,387.0 948.0,394.0 940.0,378.0 930.0,370.0" fill="#fbb81f"/>
<polygon points="978.0,338.0 1009.0,342.0 1023.0,342.0 1023.0,357.0 1023.0,380.4 991.0,382.0 990.0,383.0 988.0,364.0 980.0,352.0" fill="#fedf9b"/>
<polygon points="1023.0,342.0 1032.0,342.0 1041.0,336.0 1042.0,352.0 1052.0,358.0 1023.0,357.0" fill="#fedf9b"/>
<polygon points="1042.0,330.0 1055.0,327.0 1070.0,330.0 1095.0,329.0 1095.0,356.0 1057.0,360.0 1052.0,358.0 1042.0,352.0 1041.0,336.0" fill="#fbb81f"/>
<polygon points="1042.0,317.0 1095.0,316.0 1095.0,329.0 1070.0,330.0 1055.0,327.0 1042.0,330.0 1042.0,320.0" fill="#fedf9b"/>
<polygon points="1044.0,285.0 1072.0,283.0 1095.0,279.0 1095.0,316.0 1044.0,317.0" fill="#fedf9b"/>
<polygon points="1035.0,240.0 1095.0,240.0 1095.0,279.0 1072.0,283.0 1043.0,285.0 1035.0,281.0" fill="#fedf9b"/>
<polygon points="1032.0,281.0 1035.0,281.0 1044.0,285.0 1044.0,317.0 1038.0,316.0 1032.0,310.0" fill="#fedf9b"/>
<polygon points="1009.6,276.0 1032.0,276.0 1032.0,310.0 1029.0,308.0 1020.0,302.0 1009.6,306.0" fill="#fedf9b"/>
<polygon points="1009.6,306.0 1020.0,302.0 1029.0,308.0 1038.0,316.0 1009.6,316.4" fill="#fbb81f"/>
<polygon points="997.0,277.0 1009.6,276.0 1009.6,312.0 997.0,312.0" fill="#fedf9b"/>
<polygon points="995.0,220.0 1035.0,220.0 1035.0,281.0 1032.0,281.0 1032.0,276.0 1009.6,276.0 997.0,277.0 995.0,277.0" fill="#fedf9b"/>
<polygon points="957.0,225.0 995.0,225.0 995.0,277.0 972.0,269.0 957.0,271.0" fill="#f7ebdc"/>
<polygon points="957.0,271.0 972.0,269.0 995.0,277.0 980.0,279.0 968.0,285.0 958.0,290.0" fill="#fbb81f"/>
<polygon points="958.0,290.0 968.0,285.0 980.0,279.0 995.0,277.0 997.0,277.0 997.0,312.0 972.0,312.4 958.0,313.0" fill="#fedf9b"/>
<polygon points="920.0,225.0 957.0,225.0 957.0,275.7 920.7,282.7" fill="#fedf9b"/>
<polygon points="880.0,225.0 920.0,225.0 920.0,279.0 880.0,278.0" fill="#fedf9b"/>
<polygon points="842.4,225.0 880.0,225.0 880.0,278.0 842.4,277.6" fill="#fbb81f"/>
<polygon points="808.0,220.0 842.4,220.0 842.4,277.6 808.0,277.0" fill="#fedf9b"/>
<polygon points="776.6,215.0 808.0,215.0 808.0,277.0 777.0,276.4" fill="#fbb81f"/>
<polygon points="740.0,200.0 776.6,210.0 777.0,245.0 740.0,245.8" fill="#f7ebdc"/>
<polygon points="703.0,185.0 740.0,200.0 740.0,245.8 703.0,246.5" fill="#f7ebdc"/>
<polygon points="666.0,170.0 703.0,170.0 703.0,226.0 690.0,222.0 675.0,218.0 664.0,213.0" fill="#f7ebdc"/>
<polygon points="664.0,213.0 675.0,218.0 690.0,222.0 703.0,226.0 703.0,246.5 690.0,248.5 667.0,246.5 664.0,246.0" fill="#fedf9b"/>
<polygon points="667.0,246.5 690.0,248.5 703.0,246.5 703.0,282.4 667.0,282.2" fill="#f7ebdc"/>
<polygon points="703.0,246.5 740.0,245.8 740.0,282.2 703.0,282.4" fill="#f7ebdc"/>
<polygon points="740.0,245.8 777.0,245.0 777.4,282.0 740.0,282.2" fill="#c88a2c"/>
<polygon points="667.0,282.2 703.0,282.4 703.6,319.5 667.0,319.0" fill="#fedf9b"/>
<polygon points="703.0,282.4 740.0,282.2 740.4,319.3 703.6,319.5" fill="#f7ebdc"/>
<polygon points="740.0,282.2 777.4,282.0 777.4,319.0 740.4,319.3" fill="#f7ebdc"/>
<polygon points="777.0,276.4 808.0,277.0 812.0,277.3 812.0,314.8 778.0,315.0 777.4,319.0 777.4,282.0" fill="#fedf9b"/>
<polygon points="812.0,277.3 850.0,278.0 850.0,314.5 812.0,314.8" fill="#fbb81f"/>
<polygon points="850.0,278.0 888.6,279.0 888.6,314.0 850.0,314.5" fill="#c88a2c"/>
<polygon points="888.6,279.0 920.7,279.0 920.7,282.7 927.6,281.5 927.6,313.0 928.0,327.0 913.0,327.0 913.0,314.0 888.6,314.0" fill="#835d27"/>
<polygon points="927.6,282.0 957.0,277.0 958.0,290.0 958.0,313.0 952.0,313.0 950.0,321.0 944.0,325.0 928.0,327.0 927.6,313.0" fill="#fbb81f"/>
<polygon points="952.0,313.0 958.0,313.0 972.0,312.4 973.0,312.4 975.0,333.0 964.0,329.0 950.0,321.0" fill="#c88a2c"/>
<polygon points="973.0,312.4 997.0,312.0 1009.6,312.0 1009.6,316.4 1011.0,339.0 1009.0,342.0 978.0,338.0 975.0,333.0" fill="#fbb81f"/>
<polygon points="1009.6,316.4 1038.0,316.0 1042.0,320.0 1042.0,330.0 1041.0,336.0 1032.0,342.0 1023.0,342.0 1011.0,339.0" fill="#c88a2c"/>
<polygon points="944.0,325.0 950.0,321.0 964.0,329.0 975.0,333.0 978.0,338.0 980.0,352.0 979.0,364.0 945.0,366.0" fill="#fbb81f"/>
<polygon points="913.0,327.0 928.0,327.0 944.0,325.0 945.0,366.0 921.0,366.0 913.0,350.0" fill="#fbb81f"/>
<polygon points="876.7,314.0 888.6,314.0 913.0,314.0 913.0,350.0 876.7,350.7" fill="#c88a2c"/>
<polygon points="840.0,314.4 850.0,314.5 876.7,314.0 876.7,350.7 873.0,351.0 840.0,350.7" fill="#c88a2c"/>
<polygon points="803.0,315.0 812.0,314.8 840.0,314.4 840.0,350.7 835.6,351.6 804.4,352.4 803.6,351.0" fill="#c88a2c"/>
<polygon points="767.6,319.0 777.4,319.0 778.0,315.0 803.0,315.0 803.6,351.0 804.4,356.0 775.0,357.0 767.6,356.4" fill="#fedf9b"/>
<polygon points="730.0,319.5 740.4,319.3 767.6,319.0 767.6,356.4 729.6,356.4" fill="#fedf9b"/>
<polygon points="693.6,319.5 703.6,319.5 730.0,319.5 729.6,356.4 693.0,356.4" fill="#fbb81f"/>
<polygon points="693.0,356.4 729.6,356.4 729.4,392.6 692.4,393.0" fill="#c88a2c"/>
<polygon points="729.6,356.4 767.6,356.4 775.0,357.0 775.0,373.0 770.0,378.6 744.0,393.6 729.4,392.6" fill="#fedf9b"/>
<polygon points="775.0,357.0 804.4,356.0 813.0,378.0 818.4,389.6 810.0,397.0 795.0,403.0 786.0,403.0 770.0,378.6 775.0,373.0" fill="#fbb81f"/>
<polygon points="804.4,352.4 835.6,351.6 835.6,371.6 813.0,378.0 804.4,356.0" fill="#fbb81f"/>
<polygon points="813.0,378.0 835.6,371.6 837.0,381.0 818.4,389.6" fill="#fedf9b"/>
<polygon points="835.6,351.6 873.0,351.0 873.6,376.0 845.0,384.0 837.0,381.0 835.6,371.6" fill="#fbb81f"/>
<polygon points="873.0,351.0 876.7,350.7 913.0,350.0 921.0,366.0 920.0,367.0 908.0,378.0 884.8,391.7 873.6,376.0" fill="#c88a2c"/>
<polygon points="185.0,380.0 237.6,380.0 237.6,446.0 185.0,446.0" fill="#835d27"/>
<polygon points="237.6,380.0 315.0,385.0 312.0,472.0 310.0,504.0 300.0,515.0 237.6,446.0" fill="#ffffff"/>
<polygon points="315.0,385.0 378.5,388.0 371.0,471.0 350.0,482.0 310.0,504.0 312.0,472.0" fill="#835d27"/>
<polygon points="371.0,471.0 407.0,499.0 416.0,508.0 390.0,528.0 307.0,506.0 310.0,504.0 350.0,482.0" fill="#c88a2c"/>
<polygon points="307.0,506.0 390.0,528.0 388.0,624.0 388.0,640.0 330.0,640.0 280.0,560.0 280.0,492.0" fill="#835d27"/>
<polygon points="390.0,528.0 416.0,508.0 495.0,576.0 500.0,576.0 510.0,600.0 450.0,680.0 388.0,680.0 388.0,624.0" fill="#fedf9b"/>
<polygon points="378.5,388.0 385.0,399.0 392.0,408.0 400.0,418.0 407.0,424.0 414.0,426.0 416.0,442.0 430.0,444.0 442.0,448.0 449.0,450.0 407.0,499.0 371.0,471.0" fill="#fbb81f"/>
<polygon points="449.0,450.0 460.0,456.0 470.0,455.0 480.0,459.0 488.0,466.0 494.0,475.0 510.0,481.0 520.0,484.0 528.0,489.0 533.0,497.0 534.0,506.0 536.0,511.0 511.0,511.0 511.0,516.0 496.0,516.0 496.0,542.0 479.0,542.0 479.0,560.0 495.0,576.0 416.0,508.0 407.0,499.0" fill="#fbb81f"/>
<polygon points="511.0,511.0 536.0,511.0 543.0,512.0 546.0,519.0 542.0,528.0 544.0,537.0 538.0,542.0 538.0,543.0 538.0,595.0 495.0,595.0 495.0,576.0 479.0,560.0 479.0,542.0 496.0,542.0 496.0,516.0 511.0,516.0" fill="#c88a2c"/>
<polygon points="494.0,475.0 500.0,476.0 539.0,476.0 574.4,476.4 596.5,477.0 596.0,508.4 596.0,543.0 538.0,543.0 538.0,542.0 544.0,537.0 542.0,528.0 546.0,519.0 543.0,512.0 536.0,511.0 534.0,506.0 533.0,497.0 528.0,489.0 520.0,484.0 510.0,481.0" fill="#fbb81f"/>
<polygon points="538.0,543.0 596.0,543.0 615.0,543.6 615.0,599.6 614.0,620.0 611.0,630.0 600.0,640.0 560.0,620.0 538.0,595.0" fill="#fbb81f"/>
</g>
<polyline points="1118.4,588.5 1112.5,586.4 1106.2,587.5 1098.6,590.2 1090.8,594.7 1081.3,599.4 1072.0,604.1 1063.0,608.6 1058.2,612.2 1057.0,616.5 1049.4,622.3 1037.8,631.6 1028.6,639.6 1020.5,646.5 1009.9,657.3 1002.3,662.2 997.4,665.2 985.0,673.6 972.4,682.5 959.6,690.2 947.0,696.4 939.2,700.2 936.7,705.8 924.9,712.5 915.3,719.7 905.7,728.0 898.5,737.6 891.2,747.4 883.8,759.8 878.9,767.6 872.2,781.6 868.4,797.0 867.0,810.3 868.0,819.5 869.1,828.5 871.9,839.7 875.3,848.7 880.0,860.6 884.2,875.1 886.1,889.4 887.0,901.7" fill="none" stroke="#9b9b9b" stroke-width="0.7"/>
<polygon points="459.0,19.5 666.4,21.7 666.0,184.0 671.0,183.8 672.9,186.8 675.3,189.0 678.1,190.9 680.0,193.2 682.1,195.4 683.8,197.9 685.9,200.1 688.3,198.6 690.8,197.7 693.7,198.3 696.0,197.0 699.3,198.9 703.1,199.7 704.9,197.9 707.3,196.3 708.9,193.9 710.8,196.1 713.1,197.6 716.2,197.8 718.2,199.7 719.3,202.4 720.0,205.0 722.1,207.0 723.5,210.4 724.1,214.0 727.0,213.2 730.0,213.5 733.0,213.9 736.0,214.0 738.9,214.9 741.5,216.3 744.1,217.8 747.0,218.7 750.1,219.2 753.2,219.5 755.9,221.2 758.1,219.3 760.1,217.6 764.2,218.1 765.7,221.0 768.1,222.7 770.8,223.6 772.6,225.7 775.3,226.3 778.2,226.4 781.1,227.0 784.0,226.2 786.8,227.1 789.7,227.0 792.6,226.5 795.4,227.1 798.3,227.4 799.4,230.1 803.1,230.4 806.7,230.9 809.5,234.0 808.5,238.3 810.9,241.2 814.2,243.3 818.2,241.5 820.9,238.8 823.4,235.9 826.0,234.0 828.2,231.6 830.8,232.9 833.3,234.2 834.6,236.6 836.7,238.3 839.6,237.7 842.5,237.5 844.5,240.1 845.3,243.2 850.0,244.3 852.3,242.6 853.3,240.0 856.6,238.8 859.9,237.8 862.0,241.0 863.7,244.2 864.0,247.6 865.0,251.0 868.9,252.2 868.9,249.3 869.7,246.7 870.3,244.0 872.6,242.6 875.0,241.0 876.1,237.3 878.0,234.0 879.5,236.3 882.5,236.7 883.9,239.1 886.4,240.8 889.0,242.3 891.9,243.1 894.7,241.4 896.7,239.0 899.0,237.0 901.4,239.2 904.2,241.1 905.8,244.2 909.0,245.1 912.2,245.5 915.0,247.0 917.4,249.3 919.8,251.5 922.1,253.9 924.0,252.0 926.1,250.1 928.1,248.1 930.3,246.6 932.3,244.6 934.9,243.8 937.5,242.0 940.6,241.1 943.5,240.0 946.1,238.2 948.7,238.8 951.5,239.0 954.3,238.3 957.0,239.2 959.5,237.9 961.3,235.7 963.8,234.7 966.2,233.2 969.2,233.4 971.3,231.6 973.9,230.8 975.9,232.8 978.2,234.1 980.2,235.8 982.8,235.4 985.6,236.0 988.4,235.4 991.2,235.6 994.0,236.1 995.9,233.3 997.8,230.5 1000.0,228.0 1002.9,228.5 1005.1,230.3 1007.6,231.6 1010.1,232.8 1012.9,234.5 1014.6,237.5 1017.5,239.0 1020.1,240.8 1022.3,242.4 1024.6,243.9 1027.6,243.9 1030.0,245.1 1032.1,246.8 1034.7,248.4 1037.8,248.5 1040.3,250.3 1043.1,251.3 1046.0,252.0 1048.5,252.7 1050.3,255.1 1052.8,256.0 1055.3,256.7 1057.9,257.4 1060.0,259.1 1063.0,258.1 1066.0,257.6 1068.9,256.5 1072.0,256.1 1075.1,255.6 1078.0,256.4 1080.9,257.9 1084.0,257.8 1086.0,290.0 1088.0,330.0 1089.0,349.0 1090.0,386.0 1091.8,388.2 1093.5,390.5 1096.5,391.5 1098.5,393.5 1099.8,396.2 1101.7,398.9 1103.8,401.5 1106.1,403.9 1106.8,406.7 1107.8,409.4 1108.9,412.0 1109.1,415.6 1108.0,419.0 1110.0,421.1 1111.5,423.6 1113.0,426.1 1115.3,428.0 1116.9,430.5 1118.5,433.0 1120.2,435.5 1121.6,438.1 1123.2,440.9 1123.7,444.1 1125.1,447.0 1126.1,450.0 1127.8,453.3 1130.7,455.8 1131.2,458.7 1132.3,461.6 1133.2,464.4 1133.1,467.5 1133.0,470.5 1131.8,473.3 1130.4,476.1 1130.6,479.2 1131.5,482.1 1130.6,485.1 1131.3,488.0 1129.9,490.1 1128.4,492.3 1127.4,494.8 1126.1,497.1 1125.5,499.8 1123.7,501.8 1122.5,504.8 1123.1,508.1 1121.3,510.9 1120.9,514.0 1121.4,516.7 1121.6,519.3 1122.0,522.0 1121.6,524.8 1122.7,527.3 1122.8,530.0 1123.0,533.0 1121.9,535.9 1121.6,538.9 1122.0,542.0 1122.9,545.5 1123.7,549.1 1122.2,551.0 1121.0,553.5 1119.9,556.0 1118.1,558.1 1116.4,560.9 1115.7,564.1 1113.0,566.1 1111.9,569.3 1109.5,571.4 1111.9,573.5 1113.0,576.4 1115.4,578.1 1116.7,582.0 1112.0,582.0 1105.0,583.3 1096.8,586.2 1088.7,590.8 1079.3,595.5 1070.0,600.2 1060.7,604.8 1054.8,609.5 1053.7,613.6 1046.7,618.8 1035.0,628.2 1025.7,636.3 1017.5,643.3 1007.0,654.0 1000.0,658.5 995.0,661.5 982.5,670.0 970.0,678.8 957.5,686.3 945.0,692.5 936.3,696.9 933.8,702.5 922.5,708.8 912.5,716.3 902.5,725.0 895.0,735.0 887.5,745.0 880.0,757.5 875.0,765.6 868.1,780.1 864.1,796.2 862.6,810.2 863.6,820.0 864.8,829.3 867.7,841.0 871.2,850.3 875.8,862.0 879.9,876.0 881.7,890.0 883.4,901.7 883.4,904.0 880.6,905.2 877.6,905.5 874.7,906.4 871.7,907.3 868.8,908.6 867.4,913.4 864.5,914.1 861.8,913.1 859.3,911.9 857.1,909.9 855.3,907.6 852.5,906.8 850.3,905.0 848.2,903.3 846.4,901.1 844.1,899.5 841.5,897.9 838.6,896.8 835.4,896.6 832.4,895.8 829.2,895.7 826.3,896.7 823.3,895.8 820.4,896.2 817.6,896.9 814.7,897.6 811.7,896.8 808.8,896.5 805.9,895.5 803.0,894.6 800.0,894.6 797.7,892.5 794.6,891.7 792.1,889.8 789.0,889.1 786.2,887.3 783.2,886.4 779.9,886.3 776.8,885.6 773.8,884.5 771.3,882.2 768.0,882.0 765.6,880.1 762.8,878.8 760.5,876.7 758.0,875.1 754.9,874.2 752.0,872.9 749.0,871.9 746.1,870.7 743.6,869.5 741.3,867.8 738.8,866.7 736.1,865.7 734.7,863.4 732.5,861.3 732.0,858.2 730.3,855.8 729.6,853.1 728.1,850.6 727.3,847.9 725.5,845.5 725.5,842.5 724.0,840.0 722.3,837.8 720.7,835.7 720.5,832.7 719.4,830.3 716.7,828.7 716.2,825.9 714.1,823.6 712.0,821.3 710.5,818.7 709.1,815.9 709.5,813.3 707.9,810.7 708.7,808.0 707.6,805.4 708.5,802.6 707.9,800.0 706.5,796.9 704.7,794.2 702.0,792.0 703.3,789.1 702.7,785.9 702.8,782.9 704.1,780.0 703.0,777.1 703.0,774.0 703.1,771.0 703.1,768.0 700.0,768.2 696.8,767.7 694.2,765.4 690.9,765.3 688.1,763.7 686.5,761.5 683.9,760.1 682.0,758.0 680.0,756.0 678.1,753.9 677.2,751.4 676.1,749.0 675.2,746.4 674.3,743.9 672.4,741.6 670.7,739.3 669.5,736.6 667.2,734.6 665.9,732.1 665.1,729.1 662.8,727.2 661.3,724.8 658.9,722.9 658.0,720.0 655.6,718.4 652.6,717.7 650.6,715.3 648.0,713.9 646.3,711.6 646.2,708.6 644.9,706.0 644.3,703.2 642.8,700.8 642.1,698.0 641.2,695.4 638.9,693.6 637.7,691.1 637.5,688.3 636.3,685.9 634.3,683.9 633.3,681.4 632.1,678.9 630.4,676.8 629.1,674.4 627.9,672.1 626.3,669.6 625.1,666.9 623.2,664.7 621.9,662.0 620.2,657.9 618.8,655.5 619.3,652.8 619.2,650.1 618.1,647.6 617.8,645.0 616.0,642.6 613.0,641.3 610.9,639.2 609.4,635.5 608.1,631.9 605.2,631.0 603.0,629.1 600.6,627.4 598.7,625.1 596.0,624.0 594.4,621.8 591.6,620.9 589.8,619.0 588.1,616.9 585.7,614.8 582.6,613.7 579.9,612.2 577.5,610.1 576.0,607.3 573.8,605.1 570.1,601.8 569.0,598.7 566.8,596.1 565.0,593.5 564.1,590.4 562.1,587.9 559.6,586.8 556.9,586.8 554.3,586.4 552.0,585.1 549.2,584.3 546.4,585.0 543.6,584.7 540.8,584.3 538.0,584.1 535.2,584.2 532.4,583.3 529.6,584.6 526.8,584.8 524.0,583.7 521.1,583.1 518.1,582.7 515.0,583.4 512.0,582.7 509.9,581.3 507.0,581.4 505.0,579.6 502.6,578.5 500.0,577.9 496.0,577.0 494.3,579.9 492.2,582.5 490.1,585.1 487.2,585.4 484.7,584.2 482.0,584.1 478.8,584.5 476.2,586.7 472.8,586.3 470.0,587.9 467.8,590.0 466.2,592.4 464.6,594.8 463.5,597.5 462.3,600.2 461.1,602.9 461.6,606.1 460.8,609.1 459.9,612.0 458.0,614.6 456.1,617.4 453.8,619.8 454.1,623.0 454.9,626.0 455.2,629.0 452.3,630.2 450.4,632.4 447.9,633.8 445.9,635.7 443.8,637.4 441.2,638.5 438.9,639.8 438.2,642.7 436.1,644.8 434.6,647.2 433.8,649.9 431.1,649.0 427.9,649.8 425.0,648.3 422.0,647.8 419.1,647.2 416.8,645.3 414.3,643.8 412.0,642.0 409.9,640.1 408.0,638.0 406.3,635.7 403.8,634.2 400.5,634.1 397.2,633.3 393.9,632.3 391.4,629.8 390.6,626.2 388.2,623.9 384.8,623.9 382.0,622.5 378.9,622.1 376.0,621.1 373.5,620.2 371.3,618.8 368.9,617.9 366.3,617.2 363.9,616.2 361.8,614.2 359.5,612.5 358.1,609.9 356.1,607.9 353.4,606.2 350.6,604.6 348.2,602.4 345.9,600.1 344.4,597.9 342.9,595.7 340.7,594.1 339.5,591.7 337.6,589.9 335.6,588.1 333.9,586.1 333.0,583.3 332.3,580.5 330.9,578.0 330.3,575.2 328.9,572.7 327.8,570.1 327.3,567.2 326.7,564.3 324.9,561.8 324.7,558.8 324.0,556.0 324.3,553.3 324.1,550.6 322.8,548.0 323.3,545.2 322.8,542.6 321.8,540.0 320.6,537.7 318.8,535.7 318.5,532.7 316.9,530.5 315.9,528.0 314.2,525.9 313.5,523.1 312.8,520.3 311.7,517.6 310.2,515.0 310.1,512.0 307.3,509.5 305.8,506.1 304.3,503.7 301.8,502.2 299.1,500.5 296.6,498.5 294.9,495.5 291.9,494.2 289.2,493.8 287.2,491.5 284.3,491.6 282.1,489.8 279.5,487.8 277.0,485.5 274.2,483.8 272.1,481.9 270.4,479.6 267.4,478.6 266.1,475.9 264.5,473.5 263.3,470.8 260.9,468.8 260.1,465.9 257.8,463.4 254.2,462.6 251.9,460.1 250.1,457.3 248.4,454.3 245.9,452.1 243.6,449.8 241.7,447.3 240.2,444.4 238.1,441.9 235.2,440.5 232.5,438.9 230.0,437.1 227.5,435.9 225.3,434.5 222.9,433.2 221.3,431.0 220.1,428.5 217.6,427.1 216.1,424.9 214.0,421.7 213.1,417.9 212.1,415.3 210.8,412.9 209.3,410.5 208.0,408.0 205.4,407.1 202.8,406.0 199.9,406.2 197.4,403.4 196.1,399.9 194.6,396.6 192.0,394.0 191.9,391.0 192.1,388.0 192.8,386.4 447.0,396.0 448.0,390.0" fill="none" stroke="#6c6c6c" stroke-width="1.9" stroke-linejoin="round"/>
<g class="hw">
<polyline points="457.3,130.0 472.5,124.6 485.5,123.0 496.3,125.7 515.8,130.0 535.3,131.0 552.7,130.0 570.0,129.6 589.5,131.0 604.7,132.6 611.0,131.0 624.0,129.6 648.0,129.0 666.4,129.4"/>
<polyline points="535.3,131.0 533.0,139.0 534.5,147.0 538.0,156.0 538.0,166.0 542.4,186.0 547.0,208.0 544.0,215.0 543.0,220.0 537.4,227.0 537.0,246.0 537.0,270.0"/>
<polyline points="196.0,386.0 196.0,398.0 200.0,405.0 209.0,406.0 220.0,420.0 230.0,432.0 240.0,441.0 248.0,449.0 252.0,456.0 258.0,459.0 264.0,457.0 271.0,456.0 274.0,458.0 290.0,464.0 312.0,473.0 330.0,472.4 350.0,471.6 366.0,473.0 374.0,471.0 388.0,478.0 410.0,482.0 430.0,485.6 450.0,489.0 458.0,490.0 480.0,493.0 494.0,491.0 510.0,492.0 522.0,500.0 536.0,507.0 550.0,506.0 568.0,509.0 580.0,508.0 596.0,512.0 608.0,516.0 624.0,520.0 638.0,526.0 650.0,530.0 660.0,527.0 670.0,526.0 678.0,523.0 684.0,526.0 692.0,535.0 700.0,544.0 710.0,549.0 720.0,553.0 730.0,560.0 740.0,564.0 750.0,574.0 758.7,585.5 765.7,594.8 769.2,603.0 772.7,610.0"/>
<polyline points="374.0,471.0 382.0,462.0 392.0,453.0 402.0,448.0 412.0,445.0 420.0,444.0 430.0,439.6 442.0,436.0 456.0,433.0 464.0,429.0 480.0,418.0 492.0,413.0 500.0,410.0 518.0,399.0 538.0,388.0 550.0,382.0 560.0,377.0 570.0,376.0 582.0,372.0 600.0,367.0 620.0,364.0 636.0,362.0 642.0,359.0 656.0,359.0 670.0,361.0 678.0,360.0 684.0,357.0 693.0,363.0 706.0,366.0 722.0,368.0 750.0,367.0 764.0,358.0 782.0,354.0 796.0,350.0 800.0,347.3 808.0,341.3 817.3,337.3 828.0,334.7 838.7,338.0 845.3,338.7 856.0,341.3 866.7,341.3 880.0,340.7 892.0,342.0 898.7,340.7 906.7,337.3 924.0,336.0 933.3,337.3 946.7,341.3 957.5,344.7 975.0,351.7 992.5,354.0 1010.0,355.8 1021.7,355.8 1039.2,354.6 1050.8,351.0 1068.3,348.2 1080.0,347.6 1089.0,347.6"/>
<polyline points="842.7,337.3 846.7,331.3 853.3,327.3 862.7,327.3 864.0,333.3 880.0,332.7 892.0,331.3 901.3,329.3 906.7,325.3 916.0,320.0 932.0,310.7 942.3,300.3 957.5,299.8 975.0,299.8 978.5,297.4 992.5,295.0 1012.3,295.0 1021.7,292.2 1028.7,287.5 1036.8,282.3 1042.7,278.2 1050.8,270.0 1056.0,266.0 1084.0,266.0"/>
<polyline points="1081.0,266.0 1081.0,271.0"/>
<polyline points="1067.2,338.8 1071.8,344.7 1067.8,352.8"/>
<polyline points="866.0,252.0 866.0,270.0 865.0,286.0 866.0,296.7"/>
<polyline points="866.0,296.7 861.3,305.3 856.7,318.7 855.3,328.0 855.3,344.0 858.7,354.7 865.3,365.3 870.7,380.0 873.3,391.3"/>
<polyline points="866.0,296.7 872.0,300.0 877.3,308.0 884.0,317.3 886.7,325.3 892.0,331.3 893.3,338.7 892.0,346.7 890.7,354.7 888.7,365.3 887.3,377.3 880.0,388.0 873.3,391.3"/>
<polyline points="873.3,391.3 875.0,406.0 874.0,426.0 870.0,442.0 862.0,458.0 857.0,470.0 848.0,478.0 842.0,490.0 838.0,500.0 834.0,514.0 833.5,538.0 827.0,556.0 819.0,573.0 812.3,584.3 805.3,591.3 790.0,602.0 783.0,609.0"/>
<polyline points="766.8,624.0 754.0,632.2 742.0,644.5 733.0,656.0 730.0,672.0 726.0,682.0 720.0,710.0 714.0,734.0 709.0,754.0 704.0,769.0 703.0,777.0"/>
<polyline points="783.8,621.7 782.0,633.3 782.0,656.0 790.0,670.0 800.0,686.0 814.0,704.0 830.0,724.0 840.0,738.0 844.0,746.0 850.0,748.0 860.0,750.0"/>
<polyline points="844.0,745.0 840.0,752.0"/>
<polyline points="894.7,333.3 900.0,344.0 903.3,354.7 905.3,364.0 913.3,373.3 917.3,382.7 920.0,393.3 921.0,396.0 930.0,406.0 940.0,420.0 948.0,438.0 954.0,456.0 960.0,474.0 970.0,486.0 984.0,500.0 991.0,508.0 993.0,526.0 997.0,546.0 1001.0,564.0 1003.0,578.0"/>
<polyline points="784.3,613.5 796.0,609.0 810.0,603.6 846.2,594.3 860.0,593.0 877.5,590.8 895.0,590.8 918.3,589.0 935.8,585.0 953.3,581.4 965.0,580.3 976.7,579.7 998.0,578.5"/>
<polyline points="1011.0,580.0 1020.0,578.0 1036.0,574.0 1052.0,572.0 1076.0,571.6 1084.0,562.0 1092.0,552.0 1094.0,548.0"/>
<polyline points="1006.0,576.0 1008.0,564.0 1012.0,550.0 1020.0,537.0"/>
<polyline points="1011.0,586.0 1020.0,598.0 1030.0,610.0 1040.0,618.0 1045.0,619.0"/>
<polyline points="998.0,584.0 992.0,592.0 984.0,598.0 976.0,601.0 970.0,601.0"/>
<polyline points="1000.0,576.0 1010.0,576.0 1012.0,578.0 1012.0,586.0 1010.0,588.0 1000.0,588.0 998.0,586.0 998.0,578.0 1000.0,576.0"/>
<polyline points="1003.0,576.0 1005.0,581.0 1011.0,586.0"/>
<polyline points="998.0,579.0 1011.0,580.0"/>
<polyline points="998.0,584.0 1006.0,576.0"/>
<polyline points="774.5,616.4 774.1,618.3 773.1,619.9 771.5,620.9 769.6,621.3 767.7,620.9 766.1,619.9 765.1,618.3 764.7,616.4 765.1,614.5 766.1,612.9 767.7,611.9 769.6,611.5 771.5,611.9 773.1,612.9 774.1,614.5 774.5,616.4"/>
<polyline points="775.5,608.0 783.5,607.5 784.3,612.0 784.3,623.0 777.0,624.0 775.0,620.0 775.5,608.0"/>
<polyline points="772.7,610.0 776.0,614.0 784.0,623.0"/>
<polyline points="766.8,624.0 776.0,616.0 783.0,609.0"/>
<polyline points="767.4,223.0 766.4,227.0 768.0,233.0 771.0,239.0"/>
<polyline points="822.0,472.0 828.0,473.0 834.0,476.0 848.0,478.0"/>
<polyline points="788.0,882.0 794.0,885.0 800.0,886.5 804.7,884.8 814.0,886.5 822.8,888.8 829.2,887.7 838.5,885.9 846.7,892.3 853.7,899.3 857.2,909.8"/>
<polyline points="804.7,884.8 806.5,880.0 807.0,874.8"/>
<polyline points="838.5,885.9 837.3,878.3 834.4,873.7 835.0,863.2 834.4,857.9"/>
<polyline points="853.7,899.3 857.8,900.0"/>
<polyline points="876.0,318.0 881.3,320.0 886.7,320.0"/>
<polyline points="844.7,335.3 849.3,330.0 856.0,327.3 863.3,327.3 864.0,333.3 862.0,340.0 856.0,342.0 846.7,339.3 844.7,335.3"/>
<polyline points="886.7,324.7 896.0,321.3 904.0,326.0 906.0,334.7 901.3,340.7 893.3,342.7"/>
<polyline points="670.0,361.0 678.0,360.0 684.0,357.0"/>
</g>
<g class="lab">
<text class="h" x="539.7" y="116.6" textLength="52.0" lengthAdjust="spacingAndGlyphs">Amarillo</text>
<text class="h" x="538.5" y="265.6" textLength="50.5" lengthAdjust="spacingAndGlyphs">Lubbock</text>
<text class="h" x="772.2" y="225" textLength="76.4" lengthAdjust="spacingAndGlyphs">Wichita Falls</text>
<text class="h" x="810.7" y="320" textLength="58.6" lengthAdjust="spacingAndGlyphs">FortWorth</text>
<text class="h" x="892.7" y="317.5" textLength="37.3" lengthAdjust="spacingAndGlyphs">Dallas</text>
<text class="h" x="1085.5" y="255.3" textLength="61.8" lengthAdjust="spacingAndGlyphs">Texarkana</text>
<text class="h" x="1002" y="350" textLength="31.0" lengthAdjust="spacingAndGlyphs">Tyler</text>
<text class="h" x="202.4" y="393" textLength="42.0" lengthAdjust="spacingAndGlyphs">El Paso</text>
<text class="h" x="518" y="397" textLength="50.0" lengthAdjust="spacingAndGlyphs">Midland</text>
<text class="h" x="686.4" y="361" textLength="43.6" lengthAdjust="spacingAndGlyphs">Abilene</text>
<text class="h" x="635.6" y="431" textLength="64.4" lengthAdjust="spacingAndGlyphs">San Angelo</text>
<text class="h" x="873" y="420" textLength="29.0" lengthAdjust="spacingAndGlyphs">Waco</text>
<text class="h" x="830" y="458" textLength="43.0" lengthAdjust="spacingAndGlyphs">Killeen</text>
<text class="h" x="933" y="497.5" textLength="88.6" lengthAdjust="spacingAndGlyphs">College Station</text>
<text class="h" x="831" y="529" textLength="37.0" lengthAdjust="spacingAndGlyphs">Austin</text>
<text class="h" x="777" y="601.6" textLength="69.0" lengthAdjust="spacingAndGlyphs">San Antonio</text>
<text class="h" x="1006" y="567" textLength="47.6" lengthAdjust="spacingAndGlyphs">Houston</text>
<text class="h" x="1096" y="547.6" textLength="60.0" lengthAdjust="spacingAndGlyphs">Beaumont</text>
<text class="h" x="703" y="763" textLength="41.0" lengthAdjust="spacingAndGlyphs">Laredo</text>
<text class="h" x="861" y="736" textLength="88.0" lengthAdjust="spacingAndGlyphs">Corpus Christi</text>
<text class="h" x="788" y="871" textLength="50.0" lengthAdjust="spacingAndGlyphs">McAllen</text>
<text class="h" x="863" y="897" textLength="69.0" lengthAdjust="spacingAndGlyphs">Brownsville</text>
<text class="f" x="539.7" y="116.6" textLength="52.0" lengthAdjust="spacingAndGlyphs">Amarillo</text>
<text class="f" x="538.5" y="265.6" textLength="50.5" lengthAdjust="spacingAndGlyphs">Lubbock</text>
<text class="f" x="772.2" y="225" textLength="76.4" lengthAdjust="spacingAndGlyphs">Wichita Falls</text>
<text class="f" x="810.7" y="320" textLength="58.6" lengthAdjust="spacingAndGlyphs">FortWorth</text>
<text class="f" x="892.7" y="317.5" textLength="37.3" lengthAdjust="spacingAndGlyphs">Dallas</text>
<text class="f" x="1085.5" y="255.3" textLength="61.8" lengthAdjust="spacingAndGlyphs">Texarkana</text>
<text class="f" x="1002" y="350" textLength="31.0" lengthAdjust="spacingAndGlyphs">Tyler</text>
<text class="f" x="202.4" y="393" textLength="42.0" lengthAdjust="spacingAndGlyphs">El Paso</text>
<text class="f" x="518" y="397" textLength="50.0" lengthAdjust="spacingAndGlyphs">Midland</text>
<text class="f" x="686.4" y="361" textLength="43.6" lengthAdjust="spacingAndGlyphs">Abilene</text>
<text class="f" x="635.6" y="431" textLength="64.4" lengthAdjust="spacingAndGlyphs">San Angelo</text>
<text class="f" x="873" y="420" textLength="29.0" lengthAdjust="spacingAndGlyphs">Waco</text>
<text class="f" x="830" y="458" textLength="43.0" lengthAdjust="spacingAndGlyphs">Killeen</text>
<text class="f" x="933" y="497.5" textLength="88.6" lengthAdjust="spacingAndGlyphs">College Station</text>
<text class="f" x="831" y="529" textLength="37.0" lengthAdjust="spacingAndGlyphs">Austin</text>
<text class="f" x="777" y="601.6" textLength="69.0" lengthAdjust="spacingAndGlyphs">San Antonio</text>
<text class="f" x="1006" y="567" textLength="47.6" lengthAdjust="spacingAndGlyphs">Houston</text>
<text class="f" x="1096" y="547.6" textLength="60.0" lengthAdjust="spacingAndGlyphs">Beaumont</text>
<text class="f" x="703" y="763" textLength="41.0" lengthAdjust="spacingAndGlyphs">Laredo</text>
<text class="f" x="861" y="736" textLength="88.0" lengthAdjust="spacingAndGlyphs">Corpus Christi</text>
<text class="f" x="788" y="871" textLength="50.0" lengthAdjust="spacingAndGlyphs">McAllen</text>
<text class="f" x="863" y="897" textLength="69.0" lengthAdjust="spacingAndGlyphs">Brownsville</text>
</g>
<!-- title -->
<g class="t" font-size="21px">
<text x="43.3" y="42.5" textLength="50.7" lengthAdjust="spacingAndGlyphs">Ratio</text><text x="98.3" y="42.5" textLength="17.7" lengthAdjust="spacingAndGlyphs">of</text><text x="126.7" y="42.5" textLength="103.3" lengthAdjust="spacingAndGlyphs">Population</text><text x="236.0" y="42.5" textLength="16.7" lengthAdjust="spacingAndGlyphs">to</text><text x="258.7" y="42.5" textLength="86.3" lengthAdjust="spacingAndGlyphs">Licensed</text><text x="351.7" y="42.5" textLength="57.3" lengthAdjust="spacingAndGlyphs">Nurse</text>
<text x="80.0" y="68" textLength="110.7" lengthAdjust="spacingAndGlyphs">Practitioner</text><text x="196.7" y="68" textLength="20.6" lengthAdjust="spacingAndGlyphs">by</text><text x="228.3" y="68" textLength="68.4" lengthAdjust="spacingAndGlyphs">County</text><text x="304.0" y="68" textLength="14.7" lengthAdjust="spacingAndGlyphs">in</text><text x="327.7" y="68" textLength="44.0" lengthAdjust="spacingAndGlyphs">2005</text>
</g>
<!-- legend -->
<g class="t" font-size="20.5px">
<text x="13.0" y="619" textLength="48.0" lengthAdjust="spacingAndGlyphs">Ratio</text><text x="65.4" y="619" textLength="16.4" lengthAdjust="spacingAndGlyphs">of</text><text x="90.9" y="619" textLength="92.6" lengthAdjust="spacingAndGlyphs">Population</text><text x="190.8" y="619" textLength="16.2" lengthAdjust="spacingAndGlyphs">to</text><text x="212.6" y="619" textLength="81.1" lengthAdjust="spacingAndGlyphs">Licensed</text>
<text x="13.0" y="642.5" textLength="52.4" lengthAdjust="spacingAndGlyphs">Nurse</text><text x="72.0" y="642.5" textLength="104.3" lengthAdjust="spacingAndGlyphs">Practitioner</text>
</g>
<g stroke="#9a9a9a" stroke-width="0.7">
<rect x="16" y="654.8" width="30" height="13.5" fill="#ffffff"/>
<rect x="16" y="681.4" width="30" height="13.5" fill="#f7ebdc"/>
<rect x="16" y="708" width="30" height="13.5" fill="#fedf9b"/>
<rect x="16" y="734.6" width="30" height="13.5" fill="#fbb81f"/>
<rect x="16" y="761.2" width="30" height="13.5" fill="#c88a2c"/>
<rect x="16" y="787.8" width="30" height="13.5" fill="#835d27"/>
</g>
<g class="t" font-size="18px" style="fill:#333;stroke:#333;stroke-width:0.1px">
<text x="52.5" y="668.2" textLength="33.4" lengthAdjust="spacingAndGlyphs">0.00</text>
<text x="52.5" y="694.8" textLength="101.4" lengthAdjust="spacingAndGlyphs">1.00 - 150.00</text>
<text x="52.5" y="721.4" textLength="120.3" lengthAdjust="spacingAndGlyphs">150.01 - 250.00</text>
<text x="52.5" y="748" textLength="120.3" lengthAdjust="spacingAndGlyphs">250.01 - 425.00</text>
<text x="52.5" y="774.6" textLength="120.3" lengthAdjust="spacingAndGlyphs">425.01 - 750.00</text>
<text x="52.5" y="801.2" textLength="44" lengthAdjust="spacingAndGlyphs">&gt; 750</text>
</g>
<rect x="32" y="814.6" width="24.4" height="11.6" fill="#fff" stroke="#444" stroke-width="0.9"/>
<text class="t" x="83" y="825" font-size="13.5px" textLength="56" lengthAdjust="spacingAndGlyphs">Counties</text>
<line x1="157" y1="821" x2="191" y2="821" stroke="#000" stroke-width="1.6"/>
<text class="t" x="212.5" y="823" font-size="13.5px" textLength="102" lengthAdjust="spacingAndGlyphs">Major Highways</text>
<g class="t" font-size="10px" style="stroke-width:0.1px">
<text x="18" y="854.5" textLength="274.4" lengthAdjust="spacingAndGlyphs">Data source: Texas Center for Nursing Workforce Studies</text>
<text x="18" y="866.8" textLength="190.8" lengthAdjust="spacingAndGlyphs">Map source: Center for Health Statistics</text>
<text x="18" y="879.2" textLength="133" lengthAdjust="spacingAndGlyphs">Agency Analytics Unit - GIS</text>
<text x="18" y="891.6" textLength="79" lengthAdjust="spacingAndGlyphs">September 2021</text>
<text x="18" y="916.4" textLength="274.4" lengthAdjust="spacingAndGlyphs">Note: TTOR Prevention Programs are available statewide.</text>
</g>
<!-- scale bar -->
<path d="M369.8 841.4V833H614V841.4M491.9 833V841.4" fill="none" stroke="#111" stroke-width="1.3"/>
<g class="s" font-size="11px" text-anchor="middle" letter-spacing="0.7">
<text x="370" y="856.5">0</text><text x="492" y="856.5">100</text><text x="614" y="856.5">200</text>
</g>
<text class="t" x="478.2" y="869" font-size="10.5px" textLength="27.6" lengthAdjust="spacingAndGlyphs">Miles</text>
<!-- north arrow -->
<text class="s" x="666.2" y="825.4" font-size="15px" textLength="9" lengthAdjust="spacingAndGlyphs">N</text>
<polygon points="670.4,829.6 680.8,864 670.4,851" fill="#fff" stroke="#000" stroke-width="1.2" stroke-linejoin="miter"/>
<polygon points="670.4,829.2 660,864.8 670.4,851" fill="#000" stroke="#000" stroke-width="0.6"/>
<!-- logo -->
<g>
<circle cx="414.2" cy="894.3" r="21.8" fill="#c8a04c"/>
<circle cx="414.2" cy="894.3" r="19.2" fill="#fff"/>
<path d="M414.2 875.8A18.5 18.5 0 0 0 414.2 912.8Z" fill="#22408b"/>
<ellipse cx="406.6" cy="883.5" rx="1.2" ry="2.6" fill="#fff" transform="rotate(-70 406.6 883.5)"/>
<ellipse cx="403.4" cy="886.7" rx="1.2" ry="2.6" fill="#fff" transform="rotate(-90 403.4 886.7)"/>
<ellipse cx="401.4" cy="890.9" rx="1.2" ry="2.6" fill="#fff" transform="rotate(-110 401.4 890.9)"/>
<ellipse cx="401.1" cy="895.5" rx="1.2" ry="2.6" fill="#fff" transform="rotate(-130 401.1 895.5)"/>
<ellipse cx="402.2" cy="899.9" rx="1.2" ry="2.6" fill="#fff" transform="rotate(-150 402.2 899.9)"/>
<ellipse cx="404.9" cy="903.6" rx="1.2" ry="2.6" fill="#fff" transform="rotate(-170 404.9 903.6)"/>
<ellipse cx="408.6" cy="906.3" rx="1.2" ry="2.6" fill="#fff" transform="rotate(-190 408.6 906.3)"/>
<ellipse cx="421.8" cy="883.5" rx="1.2" ry="2.6" fill="#22408b" transform="rotate(70 421.8 883.5)"/>
<ellipse cx="425.0" cy="886.7" rx="1.2" ry="2.6" fill="#22408b" transform="rotate(90 425.0 886.7)"/>
<ellipse cx="427.0" cy="890.9" rx="1.2" ry="2.6" fill="#22408b" transform="rotate(110 427.0 890.9)"/>
<ellipse cx="427.3" cy="895.5" rx="1.2" ry="2.6" fill="#22408b" transform="rotate(130 427.3 895.5)"/>
<ellipse cx="426.2" cy="899.9" rx="1.2" ry="2.6" fill="#22408b" transform="rotate(150 426.2 899.9)"/>
<ellipse cx="423.5" cy="903.6" rx="1.2" ry="2.6" fill="#22408b" transform="rotate(170 423.5 903.6)"/>
<ellipse cx="419.8" cy="906.3" rx="1.2" ry="2.6" fill="#22408b" transform="rotate(190 419.8 906.3)"/>
<circle cx="414.2" cy="894.3" r="8.6" fill="#fff"/>
<circle cx="414.2" cy="894.3" r="7.3" fill="#c3272f"/>
<polygon points="414.2,888.3 415.7,892.3 419.9,892.4 416.6,895.1 417.7,899.2 414.2,896.8 410.7,899.2 411.8,895.1 408.5,892.4 412.7,892.3" fill="#fff"/>
</g>
<text x="440.2" y="891" font-family="Liberation Serif,serif" font-size="14.4px" fill="#b3262d" stroke="#b3262d" stroke-width="0.2" textLength="45.8" lengthAdjust="spacingAndGlyphs">TEXAS</text>
<g font-family="Liberation Sans,sans-serif" font-weight="bold" fill="#2b4b95">
<text x="441.2" y="902.3" font-size="8.8px" textLength="65.7" lengthAdjust="spacingAndGlyphs">Health and Human</text>
<text x="441.2" y="911.3" font-size="8.8px" textLength="28.2" lengthAdjust="spacingAndGlyphs">Services</text>
<text x="524.2" y="898.2" font-size="9.8px" textLength="101.4" lengthAdjust="spacingAndGlyphs">Texas Department of State</text>
<text x="524.2" y="910.7" font-size="9.8px" textLength="57.7" lengthAdjust="spacingAndGlyphs">Health Services</text>
</g>
<line x1="516.2" y1="888.8" x2="516.2" y2="915" stroke="#d4705f" stroke-width="0.9"/>

</svg></body></html>
